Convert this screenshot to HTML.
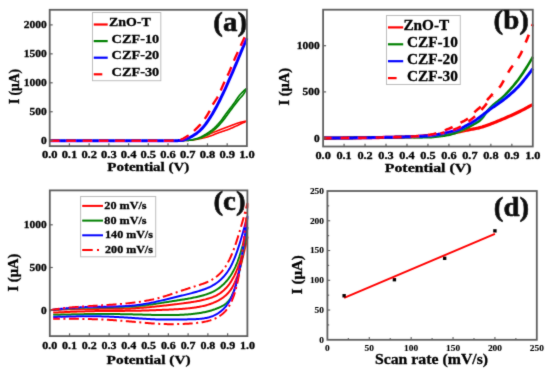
<!DOCTYPE html>
<html><head><meta charset="utf-8"><style>
html,body{margin:0;padding:0;background:#fff;}
svg{display:block;}
text{font-family:"Liberation Serif", serif;}
</style></head><body>
<svg width="550" height="375" viewBox="0 0 550 375">
<defs><filter id="bl" x="0" y="0" width="550" height="375" filterUnits="userSpaceOnUse"><feConvolveMatrix order="3" kernelMatrix="0.02 0.08 0.02 0.08 0.6 0.08 0.02 0.08 0.02" edgeMode="duplicate" preserveAlpha="false"/></filter></defs>
<rect width="550" height="375" fill="#fff"/>
<g filter="url(#bl)">
<path d="M49.70,140.70 L50.69,140.70 L51.68,140.70 L52.67,140.70 L53.66,140.70 L54.65,140.70 L55.65,140.70 L56.64,140.70 L57.63,140.70 L58.62,140.70 L59.61,140.70 L60.60,140.70 L61.59,140.70 L62.58,140.70 L63.57,140.70 L64.56,140.70 L65.56,140.70 L66.55,140.70 L67.54,140.70 L68.53,140.70 L69.52,140.70 L70.51,140.70 L71.50,140.70 L72.49,140.70 L73.48,140.70 L74.47,140.70 L75.46,140.70 L76.46,140.70 L77.45,140.70 L78.44,140.70 L79.43,140.70 L80.42,140.70 L81.41,140.70 L82.40,140.70 L83.39,140.70 L84.38,140.70 L85.37,140.70 L86.37,140.70 L87.36,140.70 L88.35,140.70 L89.34,140.70 L90.33,140.70 L91.32,140.70 L92.31,140.70 L93.30,140.70 L94.29,140.70 L95.28,140.70 L96.27,140.70 L97.27,140.70 L98.26,140.70 L99.25,140.70 L100.24,140.70 L101.23,140.70 L102.22,140.70 L103.21,140.70 L104.20,140.70 L105.19,140.70 L106.18,140.70 L107.18,140.70 L108.17,140.70 L109.16,140.70 L110.15,140.70 L111.14,140.70 L112.13,140.70 L113.12,140.70 L114.11,140.70 L115.10,140.70 L116.09,140.70 L117.08,140.70 L118.08,140.70 L119.07,140.70 L120.06,140.70 L121.05,140.70 L122.04,140.70 L123.03,140.70 L124.02,140.70 L125.01,140.70 L126.00,140.70 L126.99,140.70 L127.99,140.70 L128.98,140.70 L129.97,140.70 L130.96,140.70 L131.95,140.70 L132.94,140.70 L133.93,140.70 L134.92,140.70 L135.91,140.70 L136.90,140.70 L137.89,140.70 L138.89,140.70 L139.88,140.70 L140.87,140.70 L141.86,140.70 L142.85,140.70 L143.84,140.70 L144.83,140.70 L145.82,140.70 L146.81,140.70 L147.80,140.70 L148.80,140.70 L149.79,140.70 L150.78,140.70 L151.77,140.70 L152.76,140.70 L153.75,140.70 L154.74,140.70 L155.73,140.70 L156.72,140.70 L157.71,140.70 L158.71,140.70 L159.70,140.70 L160.69,140.70 L161.68,140.70 L162.67,140.70 L163.66,140.70 L164.65,140.70 L165.64,140.70 L166.63,140.70 L167.62,140.70 L168.61,140.70 L169.61,140.70 L170.60,140.70 L171.59,140.70 L172.58,140.70 L173.57,140.70 L174.56,140.70 L175.55,140.69 L176.54,140.69 L177.53,140.68 L178.52,140.68 L179.52,140.67 L180.51,140.66 L181.50,140.64 L182.49,140.62 L183.48,140.58 L184.47,140.53 L185.46,140.47 L186.45,140.41 L187.44,140.34 L188.43,140.27 L189.42,140.19 L190.42,140.11 L191.41,140.03 L192.40,139.94 L193.39,139.83 L194.38,139.70 L195.37,139.55 L196.36,139.38 L197.35,139.21 L198.34,139.02 L199.33,138.82 L200.33,138.61 L201.32,138.40 L202.31,138.19 L203.30,137.97 L204.29,137.73 L205.28,137.48 L206.27,137.21 L207.26,136.92 L208.25,136.62 L209.24,136.31 L210.23,135.99 L211.23,135.66 L212.22,135.31 L213.21,134.93 L214.20,134.52 L215.19,134.10 L216.18,133.69 L217.17,133.31 L218.16,132.95 L219.15,132.60 L220.14,132.26 L221.14,131.92 L222.13,131.59 L223.12,131.26 L224.11,130.92 L225.10,130.59 L226.09,130.24 L227.08,129.89 L228.07,129.52 L229.06,129.14 L230.05,128.74 L231.04,128.32 L232.04,127.90 L233.03,127.46 L234.02,127.02 L235.01,126.57 L236.00,126.11 L236.99,125.65 L237.98,125.19 L238.97,124.73 L239.96,124.26 L240.95,123.81 L241.95,123.35 L242.94,122.89 L243.93,122.42 L244.92,121.96 L245.91,121.49 L246.90,121.01" fill="none" stroke="#ff0000" stroke-width="1.6" stroke-linejoin="round" />
<path d="M205.49,135.60 L205.70,135.52 L205.90,135.43 L206.11,135.34 L206.32,135.26 L206.53,135.17 L206.74,135.09 L206.94,135.00 L207.15,134.91 L207.36,134.83 L207.57,134.74 L207.78,134.66 L207.99,134.57 L208.19,134.48 L208.40,134.40 L208.61,134.31 L208.82,134.23 L209.03,134.14 L209.23,134.06 L209.44,133.97 L209.65,133.89 L209.86,133.80 L210.07,133.72 L210.27,133.63 L210.48,133.55 L210.69,133.46 L210.90,133.38 L211.11,133.29 L211.31,133.21 L211.52,133.13 L211.73,133.04 L211.94,132.96 L212.15,132.87 L212.36,132.79 L212.56,132.71 L212.77,132.62 L212.98,132.54 L213.19,132.46 L213.40,132.37 L213.60,132.29 L213.81,132.21 L214.02,132.12 L214.23,132.04 L214.44,131.96 L214.64,131.87 L214.85,131.79 L215.06,131.71 L215.27,131.63 L215.48,131.54 L215.68,131.46 L215.89,131.38 L216.10,131.30 L216.31,131.22 L216.52,131.13 L216.73,131.05 L216.93,130.97 L217.14,130.89 L217.35,130.81 L217.56,130.73 L217.77,130.64 L217.97,130.56 L218.18,130.48 L218.39,130.40 L218.60,130.32 L218.81,130.24 L219.01,130.16 L219.22,130.08 L219.43,130.00 L219.64,129.91 L219.85,129.83 L220.06,129.75 L220.26,129.67 L220.47,129.59 L220.68,129.51 L220.89,129.43 L221.10,129.35 L221.30,129.27 L221.51,129.19 L221.72,129.11 L221.93,129.03 L222.14,128.95 L222.34,128.87 L222.55,128.79 L222.76,128.71 L222.97,128.63 L223.18,128.56 L223.38,128.48 L223.59,128.40 L223.80,128.32 L224.01,128.24 L224.22,128.16 L224.43,128.08 L224.63,128.00 L224.84,127.92 L225.05,127.85 L225.26,127.77 L225.47,127.69 L225.67,127.61 L225.88,127.53 L226.09,127.46 L226.30,127.38 L226.51,127.30 L226.71,127.22 L226.92,127.15 L227.13,127.07 L227.34,126.99 L227.55,126.92 L227.75,126.84 L227.96,126.76 L228.17,126.69 L228.38,126.61 L228.59,126.53 L228.80,126.46 L229.00,126.38 L229.21,126.30 L229.42,126.23 L229.63,126.15 L229.84,126.07 L230.04,125.99 L230.25,125.92 L230.46,125.84 L230.67,125.76 L230.88,125.68 L231.08,125.60 L231.29,125.52 L231.50,125.44 L231.71,125.36 L231.92,125.28 L232.12,125.19 L232.33,125.11 L232.54,125.03 L232.75,124.95 L232.96,124.87 L233.17,124.79 L233.37,124.71 L233.58,124.63 L233.79,124.55 L234.00,124.47 L234.21,124.39 L234.41,124.31 L234.62,124.23 L234.83,124.15 L235.04,124.08 L235.25,124.00 L235.45,123.92 L235.66,123.85 L235.87,123.77 L236.08,123.69 L236.29,123.62 L236.49,123.54 L236.70,123.47 L236.91,123.40 L237.12,123.33 L237.33,123.26 L237.54,123.18 L237.74,123.12 L237.95,123.05 L238.16,122.98 L238.37,122.91 L238.58,122.85 L238.78,122.78 L238.99,122.72 L239.20,122.66 L239.41,122.59 L239.62,122.53 L239.82,122.48 L240.03,122.42 L240.24,122.36 L240.45,122.31 L240.66,122.25 L240.87,122.20 L241.07,122.15 L241.28,122.10 L241.49,122.05 L241.70,122.00 L241.91,121.95 L242.11,121.91 L242.32,121.86 L242.53,121.81 L242.74,121.77 L242.95,121.72 L243.15,121.68 L243.36,121.64 L243.57,121.59 L243.78,121.55 L243.99,121.51 L244.19,121.47 L244.40,121.43 L244.61,121.39 L244.82,121.35 L245.03,121.32 L245.24,121.28 L245.44,121.24 L245.65,121.21 L245.86,121.17 L246.07,121.14 L246.28,121.11 L246.48,121.08 L246.69,121.04 L246.90,121.01" fill="none" stroke="#ff0000" stroke-width="1.6" stroke-linejoin="round" />
<path d="M49.70,140.70 L50.69,140.70 L51.68,140.70 L52.67,140.70 L53.66,140.70 L54.65,140.70 L55.65,140.70 L56.64,140.70 L57.63,140.70 L58.62,140.70 L59.61,140.70 L60.60,140.70 L61.59,140.70 L62.58,140.70 L63.57,140.70 L64.56,140.70 L65.56,140.70 L66.55,140.70 L67.54,140.70 L68.53,140.70 L69.52,140.70 L70.51,140.70 L71.50,140.70 L72.49,140.70 L73.48,140.70 L74.47,140.70 L75.46,140.70 L76.46,140.70 L77.45,140.70 L78.44,140.70 L79.43,140.70 L80.42,140.70 L81.41,140.70 L82.40,140.70 L83.39,140.70 L84.38,140.70 L85.37,140.70 L86.37,140.70 L87.36,140.70 L88.35,140.70 L89.34,140.70 L90.33,140.70 L91.32,140.70 L92.31,140.70 L93.30,140.70 L94.29,140.70 L95.28,140.70 L96.27,140.70 L97.27,140.70 L98.26,140.70 L99.25,140.70 L100.24,140.70 L101.23,140.70 L102.22,140.70 L103.21,140.70 L104.20,140.70 L105.19,140.70 L106.18,140.70 L107.18,140.70 L108.17,140.70 L109.16,140.70 L110.15,140.70 L111.14,140.70 L112.13,140.70 L113.12,140.70 L114.11,140.70 L115.10,140.70 L116.09,140.70 L117.08,140.70 L118.08,140.70 L119.07,140.70 L120.06,140.70 L121.05,140.70 L122.04,140.70 L123.03,140.70 L124.02,140.70 L125.01,140.70 L126.00,140.70 L126.99,140.70 L127.99,140.70 L128.98,140.70 L129.97,140.70 L130.96,140.70 L131.95,140.70 L132.94,140.70 L133.93,140.70 L134.92,140.70 L135.91,140.70 L136.90,140.70 L137.89,140.70 L138.89,140.70 L139.88,140.70 L140.87,140.70 L141.86,140.70 L142.85,140.70 L143.84,140.70 L144.83,140.70 L145.82,140.70 L146.81,140.70 L147.80,140.70 L148.80,140.70 L149.79,140.70 L150.78,140.70 L151.77,140.70 L152.76,140.70 L153.75,140.70 L154.74,140.70 L155.73,140.70 L156.72,140.70 L157.71,140.70 L158.71,140.70 L159.70,140.70 L160.69,140.70 L161.68,140.70 L162.67,140.70 L163.66,140.70 L164.65,140.70 L165.64,140.70 L166.63,140.70 L167.62,140.70 L168.61,140.70 L169.61,140.70 L170.60,140.70 L171.59,140.70 L172.58,140.70 L173.57,140.70 L174.56,140.70 L175.55,140.69 L176.54,140.69 L177.53,140.68 L178.52,140.68 L179.52,140.67 L180.51,140.66 L181.50,140.65 L182.49,140.62 L183.48,140.58 L184.47,140.54 L185.46,140.49 L186.45,140.43 L187.44,140.37 L188.43,140.30 L189.42,140.22 L190.42,140.11 L191.41,139.99 L192.40,139.85 L193.39,139.69 L194.38,139.52 L195.37,139.33 L196.36,139.13 L197.35,138.91 L198.34,138.68 L199.33,138.44 L200.33,138.18 L201.32,137.85 L202.31,137.48 L203.30,137.05 L204.29,136.59 L205.28,136.09 L206.27,135.57 L207.26,135.02 L208.25,134.44 L209.24,133.81 L210.23,133.11 L211.23,132.37 L212.22,131.58 L213.21,130.76 L214.20,129.89 L215.19,129.00 L216.18,128.08 L217.17,127.15 L218.16,126.15 L219.15,125.08 L220.14,123.96 L221.14,122.79 L222.13,121.59 L223.12,120.36 L224.11,119.13 L225.10,117.87 L226.09,116.56 L227.08,115.21 L228.07,113.84 L229.06,112.46 L230.05,111.09 L231.04,109.75 L232.04,108.42 L233.03,107.09 L234.02,105.77 L235.01,104.44 L236.00,103.14 L236.99,101.86 L237.98,100.61 L238.97,99.40 L239.96,98.29 L240.95,97.23 L241.95,96.14 L242.94,94.94 L243.93,93.54 L244.92,91.95 L245.91,90.19 L246.90,88.30" fill="none" stroke="#008000" stroke-width="1.7" stroke-linejoin="round" />
<path d="M187.74,140.35 L188.04,140.34 L188.33,140.33 L188.63,140.31 L188.93,140.28 L189.23,140.26 L189.52,140.23 L189.82,140.19 L190.12,140.15 L190.42,140.11 L190.71,140.07 L191.01,140.02 L191.31,139.97 L191.60,139.91 L191.90,139.85 L192.20,139.79 L192.50,139.73 L192.79,139.67 L193.09,139.60 L193.39,139.53 L193.69,139.46 L193.98,139.38 L194.28,139.31 L194.58,139.23 L194.87,139.15 L195.17,139.07 L195.47,138.99 L195.77,138.91 L196.06,138.83 L196.36,138.74 L196.66,138.66 L196.96,138.57 L197.25,138.48 L197.55,138.40 L197.85,138.31 L198.15,138.21 L198.44,138.11 L198.74,138.00 L199.04,137.88 L199.33,137.75 L199.63,137.62 L199.93,137.49 L200.23,137.34 L200.52,137.20 L200.82,137.05 L201.12,136.89 L201.42,136.73 L201.71,136.57 L202.01,136.41 L202.31,136.24 L202.60,136.07 L202.90,135.90 L203.20,135.73 L203.50,135.55 L203.79,135.38 L204.09,135.21 L204.39,135.03 L204.69,134.86 L204.98,134.68 L205.28,134.51 L205.58,134.34 L205.87,134.16 L206.17,133.99 L206.47,133.81 L206.77,133.62 L207.06,133.44 L207.36,133.25 L207.66,133.06 L207.96,132.87 L208.25,132.68 L208.55,132.48 L208.85,132.28 L209.14,132.08 L209.44,131.87 L209.74,131.66 L210.04,131.45 L210.33,131.24 L210.63,131.02 L210.93,130.80 L211.23,130.57 L211.52,130.34 L211.82,130.11 L212.12,129.88 L212.41,129.63 L212.71,129.39 L213.01,129.14 L213.31,128.88 L213.60,128.62 L213.90,128.35 L214.20,128.08 L214.50,127.81 L214.79,127.53 L215.09,127.24 L215.39,126.95 L215.68,126.66 L215.98,126.36 L216.28,126.06 L216.58,125.76 L216.87,125.45 L217.17,125.13 L217.47,124.82 L217.77,124.50 L218.06,124.17 L218.36,123.85 L218.66,123.52 L218.96,123.18 L219.25,122.85 L219.55,122.51 L219.85,122.16 L220.14,121.80 L220.44,121.44 L220.74,121.07 L221.04,120.68 L221.33,120.30 L221.63,119.90 L221.93,119.50 L222.23,119.10 L222.52,118.69 L222.82,118.27 L223.12,117.86 L223.41,117.44 L223.71,117.02 L224.01,116.60 L224.31,116.18 L224.60,115.76 L224.90,115.34 L225.20,114.93 L225.50,114.51 L225.79,114.10 L226.09,113.70 L226.39,113.29 L226.68,112.90 L226.98,112.50 L227.28,112.11 L227.58,111.72 L227.87,111.33 L228.17,110.94 L228.47,110.55 L228.77,110.16 L229.06,109.78 L229.36,109.39 L229.66,109.00 L229.95,108.62 L230.25,108.23 L230.55,107.84 L230.85,107.46 L231.14,107.07 L231.44,106.68 L231.74,106.29 L232.04,105.90 L232.33,105.50 L232.63,105.11 L232.93,104.71 L233.22,104.31 L233.52,103.91 L233.82,103.50 L234.12,103.09 L234.41,102.67 L234.71,102.24 L235.01,101.81 L235.31,101.37 L235.60,100.92 L235.90,100.47 L236.20,100.02 L236.49,99.57 L236.79,99.12 L237.09,98.68 L237.39,98.24 L237.68,97.80 L237.98,97.38 L238.28,96.96 L238.58,96.55 L238.87,96.16 L239.17,95.78 L239.47,95.41 L239.77,95.06 L240.06,94.72 L240.36,94.38 L240.66,94.05 L240.95,93.73 L241.25,93.40 L241.55,93.08 L241.85,92.77 L242.14,92.46 L242.44,92.16 L242.74,91.86 L243.04,91.56 L243.33,91.27 L243.63,90.99 L243.93,90.71 L244.22,90.44 L244.52,90.18 L244.82,89.92 L245.12,89.66 L245.41,89.42 L245.71,89.18 L246.01,88.95 L246.31,88.73 L246.60,88.51 L246.90,88.30" fill="none" stroke="#008000" stroke-width="1.7" stroke-linejoin="round" />
<path d="M49.70,140.70 L50.69,140.70 L51.68,140.70 L52.67,140.70 L53.66,140.70 L54.65,140.70 L55.65,140.70 L56.64,140.70 L57.63,140.70 L58.62,140.70 L59.61,140.70 L60.60,140.70 L61.59,140.70 L62.58,140.70 L63.57,140.70 L64.56,140.70 L65.56,140.70 L66.55,140.70 L67.54,140.70 L68.53,140.70 L69.52,140.70 L70.51,140.70 L71.50,140.70 L72.49,140.70 L73.48,140.70 L74.47,140.70 L75.46,140.70 L76.46,140.70 L77.45,140.70 L78.44,140.70 L79.43,140.70 L80.42,140.70 L81.41,140.70 L82.40,140.70 L83.39,140.70 L84.38,140.70 L85.37,140.70 L86.37,140.70 L87.36,140.70 L88.35,140.70 L89.34,140.70 L90.33,140.70 L91.32,140.70 L92.31,140.70 L93.30,140.70 L94.29,140.70 L95.28,140.70 L96.27,140.70 L97.27,140.70 L98.26,140.70 L99.25,140.70 L100.24,140.70 L101.23,140.70 L102.22,140.70 L103.21,140.70 L104.20,140.70 L105.19,140.70 L106.18,140.70 L107.18,140.70 L108.17,140.70 L109.16,140.70 L110.15,140.70 L111.14,140.70 L112.13,140.70 L113.12,140.70 L114.11,140.70 L115.10,140.70 L116.09,140.70 L117.08,140.70 L118.08,140.70 L119.07,140.70 L120.06,140.70 L121.05,140.70 L122.04,140.70 L123.03,140.70 L124.02,140.70 L125.01,140.70 L126.00,140.70 L126.99,140.70 L127.99,140.70 L128.98,140.70 L129.97,140.70 L130.96,140.70 L131.95,140.70 L132.94,140.70 L133.93,140.70 L134.92,140.70 L135.91,140.70 L136.90,140.70 L137.89,140.70 L138.89,140.70 L139.88,140.70 L140.87,140.70 L141.86,140.70 L142.85,140.70 L143.84,140.70 L144.83,140.70 L145.82,140.70 L146.81,140.70 L147.80,140.70 L148.80,140.70 L149.79,140.70 L150.78,140.70 L151.77,140.70 L152.76,140.70 L153.75,140.70 L154.74,140.70 L155.73,140.70 L156.72,140.70 L157.71,140.70 L158.71,140.70 L159.70,140.70 L160.69,140.70 L161.68,140.70 L162.67,140.70 L163.66,140.70 L164.65,140.70 L165.64,140.70 L166.63,140.70 L167.62,140.70 L168.61,140.70 L169.61,140.70 L170.60,140.70 L171.59,140.70 L172.58,140.70 L173.57,140.70 L174.56,140.69 L175.55,140.68 L176.54,140.66 L177.53,140.64 L178.52,140.62 L179.52,140.60 L180.51,140.56 L181.50,140.44 L182.49,140.24 L183.48,139.97 L184.47,139.64 L185.46,139.28 L186.45,138.90 L187.44,138.52 L188.43,138.13 L189.42,137.69 L190.42,137.20 L191.41,136.67 L192.40,136.09 L193.39,135.47 L194.38,134.82 L195.37,134.15 L196.36,133.45 L197.35,132.70 L198.34,131.89 L199.33,131.03 L200.33,130.11 L201.32,129.14 L202.31,128.12 L203.30,127.04 L204.29,125.86 L205.28,124.59 L206.27,123.25 L207.26,121.86 L208.25,120.43 L209.24,118.95 L210.23,117.41 L211.23,115.81 L212.22,114.17 L213.21,112.48 L214.20,110.75 L215.19,108.98 L216.18,107.19 L217.17,105.33 L218.16,103.42 L219.15,101.46 L220.14,99.46 L221.14,97.42 L222.13,95.36 L223.12,93.28 L224.11,91.18 L225.10,89.05 L226.09,86.87 L227.08,84.67 L228.07,82.44 L229.06,80.19 L230.05,77.92 L231.04,75.65 L232.04,73.38 L233.03,71.09 L234.02,68.77 L235.01,66.44 L236.00,64.09 L236.99,61.71 L237.98,59.32 L238.97,56.93 L239.96,54.55 L240.95,52.18 L241.95,49.84 L242.94,47.50 L243.93,45.16 L244.92,42.84 L245.91,40.52 L246.90,38.22" fill="none" stroke="#0000ff" stroke-width="3.0" stroke-linejoin="round" />
<path d="M49.70,140.70 L50.69,140.70 L51.68,140.70 L52.67,140.70 L53.66,140.70 L54.65,140.70 L55.65,140.70 L56.64,140.70 L57.63,140.70 L58.62,140.70 L59.61,140.70 L60.60,140.70 L61.59,140.70 L62.58,140.70 L63.57,140.70 L64.56,140.70 L65.56,140.70 L66.55,140.70 L67.54,140.70 L68.53,140.70 L69.52,140.70 L70.51,140.70 L71.50,140.70 L72.49,140.70 L73.48,140.70 L74.47,140.70 L75.46,140.70 L76.46,140.70 L77.45,140.70 L78.44,140.70 L79.43,140.70 L80.42,140.70 L81.41,140.70 L82.40,140.70 L83.39,140.70 L84.38,140.70 L85.37,140.70 L86.37,140.70 L87.36,140.70 L88.35,140.70 L89.34,140.70 L90.33,140.70 L91.32,140.70 L92.31,140.70 L93.30,140.70 L94.29,140.70 L95.28,140.70 L96.27,140.70 L97.27,140.70 L98.26,140.70 L99.25,140.70 L100.24,140.70 L101.23,140.70 L102.22,140.70 L103.21,140.70 L104.20,140.70 L105.19,140.70 L106.18,140.70 L107.18,140.70 L108.17,140.70 L109.16,140.70 L110.15,140.70 L111.14,140.70 L112.13,140.70 L113.12,140.70 L114.11,140.70 L115.10,140.70 L116.09,140.70 L117.08,140.70 L118.08,140.70 L119.07,140.70 L120.06,140.70 L121.05,140.70 L122.04,140.70 L123.03,140.70 L124.02,140.70 L125.01,140.70 L126.00,140.70 L126.99,140.70 L127.99,140.70 L128.98,140.70 L129.97,140.70 L130.96,140.70 L131.95,140.70 L132.94,140.70 L133.93,140.70 L134.92,140.70 L135.91,140.70 L136.90,140.70 L137.89,140.70 L138.89,140.70 L139.88,140.70 L140.87,140.70 L141.86,140.70 L142.85,140.70 L143.84,140.70 L144.83,140.70 L145.82,140.70 L146.81,140.70 L147.80,140.70 L148.80,140.70 L149.79,140.70 L150.78,140.70 L151.77,140.70 L152.76,140.70 L153.75,140.70 L154.74,140.70 L155.73,140.70 L156.72,140.70 L157.71,140.70 L158.71,140.70 L159.70,140.70 L160.69,140.70 L161.68,140.70 L162.67,140.70 L163.66,140.70 L164.65,140.70 L165.64,140.70 L166.63,140.70 L167.62,140.70 L168.61,140.70 L169.61,140.68 L170.60,140.65 L171.59,140.60 L172.58,140.54 L173.57,140.47 L174.56,140.38 L175.55,140.29 L176.54,140.18 L177.53,140.06 L178.52,139.93 L179.52,139.79 L180.51,139.63 L181.50,139.35 L182.49,138.96 L183.48,138.47 L184.47,137.92 L185.46,137.31 L186.45,136.67 L187.44,136.03 L188.43,135.40 L189.42,134.71 L190.42,133.96 L191.41,133.17 L192.40,132.32 L193.39,131.45 L194.38,130.54 L195.37,129.62 L196.36,128.68 L197.35,127.72 L198.34,126.71 L199.33,125.67 L200.33,124.58 L201.32,123.44 L202.31,122.24 L203.30,120.97 L204.29,119.62 L205.28,118.18 L206.27,116.67 L207.26,115.09 L208.25,113.45 L209.24,111.72 L210.23,109.80 L211.23,107.78 L212.22,105.79 L213.21,103.94 L214.20,102.32 L215.19,100.87 L216.18,99.42 L217.17,97.83 L218.16,95.97 L219.15,93.92 L220.14,91.75 L221.14,89.54 L222.13,87.33 L223.12,85.04 L224.11,82.77 L225.10,80.61 L226.09,78.55 L227.08,76.55 L228.07,74.53 L229.06,72.43 L230.05,70.19 L231.04,67.83 L232.04,65.40 L233.03,62.96 L234.02,60.59 L235.01,58.32 L236.00,56.09 L236.99,53.88 L237.98,51.71 L238.97,49.54 L239.96,47.39 L240.95,45.23 L241.95,43.07 L242.94,40.93 L243.93,38.79 L244.92,36.66 L245.91,34.54 L246.90,32.43" fill="none" stroke="#ff0000" stroke-width="2.4" stroke-dasharray="9.5,6.8" stroke-linejoin="round" stroke-dashoffset="16.0"/>
<rect x="49.7" y="9.8" width="197.20" height="136.30" fill="none" stroke="#5e5e5e" stroke-width="1.8"/>
<line x1="69.42" y1="146.1" x2="69.42" y2="143.29999999999998" stroke="#5e5e5e" stroke-width="1.2"/>
<line x1="89.14" y1="146.1" x2="89.14" y2="143.29999999999998" stroke="#5e5e5e" stroke-width="1.2"/>
<line x1="108.86" y1="146.1" x2="108.86" y2="143.29999999999998" stroke="#5e5e5e" stroke-width="1.2"/>
<line x1="128.58" y1="146.1" x2="128.58" y2="143.29999999999998" stroke="#5e5e5e" stroke-width="1.2"/>
<line x1="148.30" y1="146.1" x2="148.30" y2="143.29999999999998" stroke="#5e5e5e" stroke-width="1.2"/>
<line x1="168.02" y1="146.1" x2="168.02" y2="143.29999999999998" stroke="#5e5e5e" stroke-width="1.2"/>
<line x1="187.74" y1="146.1" x2="187.74" y2="143.29999999999998" stroke="#5e5e5e" stroke-width="1.2"/>
<line x1="207.46" y1="146.1" x2="207.46" y2="143.29999999999998" stroke="#5e5e5e" stroke-width="1.2"/>
<line x1="227.18" y1="146.1" x2="227.18" y2="143.29999999999998" stroke="#5e5e5e" stroke-width="1.2"/>
<line x1="49.7" y1="140.70" x2="52.7" y2="140.70" stroke="#5e5e5e" stroke-width="1.2"/>
<text transform="translate(46.70,144.10) scale(1.130,1.000)" font-size="10.2" font-weight="bold" text-anchor="end" fill="#000" stroke="#000" stroke-width="0.3">0</text>
<line x1="49.7" y1="111.75" x2="52.7" y2="111.75" stroke="#5e5e5e" stroke-width="1.2"/>
<text transform="translate(46.70,115.15) scale(1.130,1.000)" font-size="10.2" font-weight="bold" text-anchor="end" fill="#000" stroke="#000" stroke-width="0.3">500</text>
<line x1="49.7" y1="82.80" x2="52.7" y2="82.80" stroke="#5e5e5e" stroke-width="1.2"/>
<text transform="translate(46.70,86.20) scale(1.130,1.000)" font-size="10.2" font-weight="bold" text-anchor="end" fill="#000" stroke="#000" stroke-width="0.3">1000</text>
<line x1="49.7" y1="53.85" x2="52.7" y2="53.85" stroke="#5e5e5e" stroke-width="1.2"/>
<text transform="translate(46.70,57.25) scale(1.130,1.000)" font-size="10.2" font-weight="bold" text-anchor="end" fill="#000" stroke="#000" stroke-width="0.3">1500</text>
<line x1="49.7" y1="24.90" x2="52.7" y2="24.90" stroke="#5e5e5e" stroke-width="1.2"/>
<text transform="translate(46.70,28.30) scale(1.130,1.000)" font-size="10.2" font-weight="bold" text-anchor="end" fill="#000" stroke="#000" stroke-width="0.3">2000</text>
<text transform="translate(49.70,157.50) scale(1.270,1.000)" font-size="9.8" font-weight="bold" text-anchor="middle" fill="#000" stroke="#000" stroke-width="0.3">0.0</text>
<text transform="translate(69.42,157.50) scale(1.270,1.000)" font-size="9.8" font-weight="bold" text-anchor="middle" fill="#000" stroke="#000" stroke-width="0.3">0.1</text>
<text transform="translate(89.14,157.50) scale(1.270,1.000)" font-size="9.8" font-weight="bold" text-anchor="middle" fill="#000" stroke="#000" stroke-width="0.3">0.2</text>
<text transform="translate(108.86,157.50) scale(1.270,1.000)" font-size="9.8" font-weight="bold" text-anchor="middle" fill="#000" stroke="#000" stroke-width="0.3">0.3</text>
<text transform="translate(128.58,157.50) scale(1.270,1.000)" font-size="9.8" font-weight="bold" text-anchor="middle" fill="#000" stroke="#000" stroke-width="0.3">0.4</text>
<text transform="translate(148.30,157.50) scale(1.270,1.000)" font-size="9.8" font-weight="bold" text-anchor="middle" fill="#000" stroke="#000" stroke-width="0.3">0.5</text>
<text transform="translate(168.02,157.50) scale(1.270,1.000)" font-size="9.8" font-weight="bold" text-anchor="middle" fill="#000" stroke="#000" stroke-width="0.3">0.6</text>
<text transform="translate(187.74,157.50) scale(1.270,1.000)" font-size="9.8" font-weight="bold" text-anchor="middle" fill="#000" stroke="#000" stroke-width="0.3">0.7</text>
<text transform="translate(207.46,157.50) scale(1.270,1.000)" font-size="9.8" font-weight="bold" text-anchor="middle" fill="#000" stroke="#000" stroke-width="0.3">0.8</text>
<text transform="translate(227.18,157.50) scale(1.270,1.000)" font-size="9.8" font-weight="bold" text-anchor="middle" fill="#000" stroke="#000" stroke-width="0.3">0.9</text>
<text transform="translate(246.90,157.50) scale(1.270,1.000)" font-size="9.8" font-weight="bold" text-anchor="middle" fill="#000" stroke="#000" stroke-width="0.3">1.0</text>
<text transform="translate(148.30,171.20) scale(1.250,1.000)" font-size="12" font-weight="bold" text-anchor="middle" fill="#000" stroke="#000" stroke-width="0.3">Potential (V)</text>
<text transform="translate(19.30,86.50) rotate(-90) scale(1.000,1.120)" font-size="13.6" font-weight="bold" text-anchor="middle" fill="#000" stroke="#000" stroke-width="0.3">I (μA)</text>
<text transform="translate(230.20,30.80) scale(1.060,1.000)" font-size="27.3" font-weight="bold" text-anchor="middle" fill="#0a0a0a" stroke="#0a0a0a" stroke-width="0.5">(a)</text>
<rect x="92.5" y="12.5" width="68.3" height="68.2" fill="none" stroke="#bdbdbd" stroke-width="1"/>
<line x1="93.6" y1="24.50" x2="107.7" y2="24.50" stroke="#ff0000" stroke-width="2.2"/>
<text transform="translate(108.90,26.10)" font-size="13.3" font-weight="bold" text-anchor="start" fill="#000" textLength="41.8" lengthAdjust="spacingAndGlyphs" stroke="#000" stroke-width="0.3">ZnO-T</text>
<line x1="93.6" y1="41.10" x2="107.7" y2="41.10" stroke="#008000" stroke-width="2.2"/>
<text transform="translate(111.60,42.70)" font-size="13.3" font-weight="bold" text-anchor="start" fill="#000" textLength="47.6" lengthAdjust="spacingAndGlyphs" stroke="#000" stroke-width="0.3">CZF-10</text>
<line x1="93.6" y1="57.70" x2="107.7" y2="57.70" stroke="#0000ff" stroke-width="2.2"/>
<text transform="translate(111.60,59.30)" font-size="13.3" font-weight="bold" text-anchor="start" fill="#000" textLength="47.6" lengthAdjust="spacingAndGlyphs" stroke="#000" stroke-width="0.3">CZF-20</text>
<line x1="93.6" y1="74.30" x2="102.3" y2="74.30" stroke="#ff0000" stroke-width="2.2"/>
<text transform="translate(111.60,75.90)" font-size="13.3" font-weight="bold" text-anchor="start" fill="#000" textLength="47.6" lengthAdjust="spacingAndGlyphs" stroke="#000" stroke-width="0.3">CZF-30</text>
<path d="M323.10,138.10 L324.15,138.10 L325.21,138.09 L326.26,138.09 L327.32,138.08 L328.37,138.08 L329.42,138.07 L330.48,138.06 L331.53,138.06 L332.58,138.05 L333.64,138.04 L334.69,138.04 L335.75,138.03 L336.80,138.02 L337.85,138.01 L338.91,138.00 L339.96,137.99 L341.01,137.98 L342.07,137.98 L343.12,137.97 L344.18,137.96 L345.23,137.95 L346.28,137.94 L347.34,137.93 L348.39,137.91 L349.44,137.90 L350.50,137.89 L351.55,137.88 L352.61,137.87 L353.66,137.86 L354.71,137.85 L355.77,137.84 L356.82,137.82 L357.87,137.81 L358.93,137.80 L359.98,137.79 L361.04,137.78 L362.09,137.76 L363.14,137.75 L364.20,137.74 L365.25,137.72 L366.30,137.71 L367.36,137.70 L368.41,137.68 L369.47,137.67 L370.52,137.66 L371.57,137.64 L372.63,137.63 L373.68,137.61 L374.73,137.60 L375.79,137.58 L376.84,137.56 L377.90,137.55 L378.95,137.53 L380.00,137.51 L381.06,137.49 L382.11,137.48 L383.16,137.46 L384.22,137.44 L385.27,137.42 L386.33,137.40 L387.38,137.38 L388.43,137.36 L389.49,137.34 L390.54,137.31 L391.59,137.29 L392.65,137.27 L393.70,137.24 L394.76,137.22 L395.81,137.20 L396.86,137.17 L397.92,137.14 L398.97,137.12 L400.03,137.09 L401.08,137.06 L402.13,137.04 L403.19,137.01 L404.24,136.98 L405.29,136.94 L406.35,136.91 L407.40,136.87 L408.46,136.84 L409.51,136.80 L410.56,136.75 L411.62,136.71 L412.67,136.66 L413.72,136.62 L414.78,136.57 L415.83,136.51 L416.89,136.45 L417.94,136.39 L418.99,136.32 L420.05,136.24 L421.10,136.14 L422.15,136.04 L423.21,135.94 L424.26,135.82 L425.32,135.71 L426.37,135.59 L427.42,135.48 L428.48,135.37 L429.53,135.26 L430.58,135.16 L431.64,135.06 L432.69,134.97 L433.75,134.87 L434.80,134.78 L435.85,134.69 L436.91,134.60 L437.96,134.51 L439.01,134.41 L440.07,134.32 L441.12,134.23 L442.18,134.13 L443.23,134.03 L444.28,133.92 L445.34,133.82 L446.39,133.70 L447.44,133.59 L448.50,133.47 L449.55,133.34 L450.61,133.20 L451.66,133.05 L452.71,132.90 L453.77,132.74 L454.82,132.57 L455.87,132.40 L456.93,132.22 L457.98,132.03 L459.04,131.84 L460.09,131.63 L461.14,131.42 L462.20,131.19 L463.25,130.96 L464.31,130.73 L465.36,130.51 L466.41,130.28 L467.47,130.07 L468.52,129.86 L469.57,129.66 L470.63,129.47 L471.68,129.28 L472.74,129.10 L473.79,128.91 L474.84,128.71 L475.90,128.51 L476.95,128.29 L478.00,128.07 L479.06,127.82 L480.11,127.55 L481.17,127.26 L482.22,126.95 L483.27,126.61 L484.33,126.26 L485.38,125.90 L486.43,125.53 L487.49,125.15 L488.54,124.77 L489.60,124.38 L490.65,124.00 L491.70,123.61 L492.76,123.20 L493.81,122.79 L494.86,122.38 L495.92,121.95 L496.97,121.52 L498.03,121.08 L499.08,120.64 L500.13,120.20 L501.19,119.75 L502.24,119.31 L503.29,118.86 L504.35,118.41 L505.40,117.95 L506.46,117.50 L507.51,117.05 L508.56,116.59 L509.62,116.12 L510.67,115.66 L511.72,115.19 L512.78,114.71 L513.83,114.23 L514.89,113.75 L515.94,113.26 L516.99,112.76 L518.05,112.26 L519.10,111.75 L520.15,111.23 L521.21,110.69 L522.26,110.15 L523.32,109.60 L524.37,109.04 L525.42,108.47 L526.48,107.90 L527.53,107.34 L528.58,106.77 L529.64,106.20 L530.69,105.65 L531.75,105.09 L532.80,104.55" fill="none" stroke="#ff0000" stroke-width="3.2" stroke-linejoin="round" />
<path d="M323.10,138.10 L324.15,138.09 L325.21,138.09 L326.26,138.08 L327.32,138.08 L328.37,138.07 L329.42,138.06 L330.48,138.06 L331.53,138.05 L332.58,138.04 L333.64,138.03 L334.69,138.03 L335.75,138.02 L336.80,138.01 L337.85,138.00 L338.91,137.99 L339.96,137.98 L341.01,137.97 L342.07,137.96 L343.12,137.95 L344.18,137.95 L345.23,137.94 L346.28,137.93 L347.34,137.92 L348.39,137.91 L349.44,137.89 L350.50,137.88 L351.55,137.87 L352.61,137.86 L353.66,137.85 L354.71,137.84 L355.77,137.83 L356.82,137.82 L357.87,137.81 L358.93,137.80 L359.98,137.78 L361.04,137.77 L362.09,137.76 L363.14,137.75 L364.20,137.74 L365.25,137.72 L366.30,137.71 L367.36,137.70 L368.41,137.68 L369.47,137.66 L370.52,137.65 L371.57,137.63 L372.63,137.61 L373.68,137.59 L374.73,137.57 L375.79,137.55 L376.84,137.52 L377.90,137.50 L378.95,137.48 L380.00,137.46 L381.06,137.43 L382.11,137.41 L383.16,137.39 L384.22,137.37 L385.27,137.35 L386.33,137.33 L387.38,137.31 L388.43,137.29 L389.49,137.27 L390.54,137.25 L391.59,137.24 L392.65,137.22 L393.70,137.21 L394.76,137.20 L395.81,137.19 L396.86,137.18 L397.92,137.18 L398.97,137.17 L400.03,137.17 L401.08,137.17 L402.13,137.17 L403.19,137.18 L404.24,137.19 L405.29,137.20 L406.35,137.22 L407.40,137.23 L408.46,137.25 L409.51,137.27 L410.56,137.29 L411.62,137.30 L412.67,137.32 L413.72,137.33 L414.78,137.34 L415.83,137.35 L416.89,137.35 L417.94,137.35 L418.99,137.35 L420.05,137.35 L421.10,137.34 L422.15,137.33 L423.21,137.31 L424.26,137.30 L425.32,137.28 L426.37,137.26 L427.42,137.23 L428.48,137.21 L429.53,137.18 L430.58,137.15 L431.64,137.09 L432.69,137.01 L433.75,136.91 L434.80,136.79 L435.85,136.67 L436.91,136.53 L437.96,136.40 L439.01,136.27 L440.07,136.14 L441.12,136.01 L442.18,135.88 L443.23,135.74 L444.28,135.59 L445.34,135.43 L446.39,135.26 L447.44,135.08 L448.50,134.88 L449.55,134.66 L450.61,134.41 L451.66,134.12 L452.71,133.81 L453.77,133.48 L454.82,133.14 L455.87,132.78 L456.93,132.40 L457.98,132.03 L459.04,131.63 L460.09,131.22 L461.14,130.78 L462.20,130.32 L463.25,129.84 L464.31,129.35 L465.36,128.85 L466.41,128.33 L467.47,127.80 L468.52,127.25 L469.57,126.66 L470.63,126.05 L471.68,125.42 L472.74,124.79 L473.79,124.17 L474.84,123.57 L475.90,123.00 L476.95,122.42 L478.00,121.78 L479.06,121.06 L480.11,120.19 L481.17,119.14 L482.22,117.93 L483.27,116.61 L484.33,115.22 L485.38,113.79 L486.43,112.36 L487.49,110.98 L488.54,109.68 L489.60,108.50 L490.65,107.44 L491.70,106.45 L492.76,105.50 L493.81,104.59 L494.86,103.70 L495.92,102.84 L496.97,101.99 L498.03,101.15 L499.08,100.30 L500.13,99.43 L501.19,98.54 L502.24,97.61 L503.29,96.65 L504.35,95.63 L505.40,94.57 L506.46,93.49 L507.51,92.38 L508.56,91.25 L509.62,90.09 L510.67,88.91 L511.72,87.71 L512.78,86.47 L513.83,85.22 L514.89,83.94 L515.94,82.63 L516.99,81.30 L518.05,79.95 L519.10,78.55 L520.15,77.09 L521.21,75.58 L522.26,74.02 L523.32,72.43 L524.37,70.82 L525.42,69.19 L526.48,67.54 L527.53,65.86 L528.58,64.15 L529.64,62.41 L530.69,60.64 L531.75,58.84 L532.80,57.02" fill="none" stroke="#008000" stroke-width="2.6" stroke-linejoin="round" />
<path d="M323.10,138.10 L324.15,138.10 L325.21,138.09 L326.26,138.09 L327.32,138.09 L328.37,138.08 L329.42,138.08 L330.48,138.07 L331.53,138.07 L332.58,138.06 L333.64,138.05 L334.69,138.05 L335.75,138.04 L336.80,138.03 L337.85,138.02 L338.91,138.01 L339.96,138.00 L341.01,138.00 L342.07,137.99 L343.12,137.98 L344.18,137.97 L345.23,137.96 L346.28,137.95 L347.34,137.93 L348.39,137.92 L349.44,137.91 L350.50,137.90 L351.55,137.89 L352.61,137.88 L353.66,137.87 L354.71,137.85 L355.77,137.84 L356.82,137.83 L357.87,137.82 L358.93,137.80 L359.98,137.79 L361.04,137.78 L362.09,137.76 L363.14,137.75 L364.20,137.74 L365.25,137.72 L366.30,137.71 L367.36,137.70 L368.41,137.68 L369.47,137.67 L370.52,137.65 L371.57,137.63 L372.63,137.61 L373.68,137.60 L374.73,137.58 L375.79,137.56 L376.84,137.54 L377.90,137.52 L378.95,137.50 L380.00,137.48 L381.06,137.45 L382.11,137.43 L383.16,137.41 L384.22,137.39 L385.27,137.36 L386.33,137.34 L387.38,137.31 L388.43,137.29 L389.49,137.26 L390.54,137.24 L391.59,137.21 L392.65,137.19 L393.70,137.16 L394.76,137.14 L395.81,137.11 L396.86,137.08 L397.92,137.05 L398.97,137.03 L400.03,137.00 L401.08,136.97 L402.13,136.94 L403.19,136.91 L404.24,136.88 L405.29,136.85 L406.35,136.82 L407.40,136.79 L408.46,136.76 L409.51,136.72 L410.56,136.69 L411.62,136.65 L412.67,136.61 L413.72,136.57 L414.78,136.53 L415.83,136.49 L416.89,136.45 L417.94,136.40 L418.99,136.36 L420.05,136.31 L421.10,136.26 L422.15,136.20 L423.21,136.15 L424.26,136.09 L425.32,136.03 L426.37,135.96 L427.42,135.89 L428.48,135.81 L429.53,135.72 L430.58,135.63 L431.64,135.51 L432.69,135.38 L433.75,135.23 L434.80,135.07 L435.85,134.89 L436.91,134.71 L437.96,134.52 L439.01,134.33 L440.07,134.13 L441.12,133.91 L442.18,133.67 L443.23,133.42 L444.28,133.16 L445.34,132.89 L446.39,132.62 L447.44,132.36 L448.50,132.09 L449.55,131.84 L450.61,131.60 L451.66,131.36 L452.71,131.12 L453.77,130.87 L454.82,130.62 L455.87,130.34 L456.93,130.03 L457.98,129.70 L459.04,129.31 L460.09,128.87 L461.14,128.38 L462.20,127.86 L463.25,127.31 L464.31,126.74 L465.36,126.16 L466.41,125.58 L467.47,125.00 L468.52,124.42 L469.57,123.83 L470.63,123.22 L471.68,122.60 L472.74,121.96 L473.79,121.31 L474.84,120.64 L475.90,119.96 L476.95,119.25 L478.00,118.53 L479.06,117.79 L480.11,117.03 L481.17,116.24 L482.22,115.43 L483.27,114.60 L484.33,113.77 L485.38,112.93 L486.43,112.09 L487.49,111.26 L488.54,110.45 L489.60,109.65 L490.65,108.87 L491.70,108.12 L492.76,107.38 L493.81,106.65 L494.86,105.93 L495.92,105.22 L496.97,104.51 L498.03,103.79 L499.08,103.06 L500.13,102.33 L501.19,101.57 L502.24,100.80 L503.29,100.00 L504.35,99.18 L505.40,98.34 L506.46,97.48 L507.51,96.61 L508.56,95.73 L509.62,94.83 L510.67,93.91 L511.72,92.98 L512.78,92.02 L513.83,91.05 L514.89,90.06 L515.94,89.04 L516.99,88.00 L518.05,86.94 L519.10,85.85 L520.15,84.71 L521.21,83.51 L522.26,82.26 L523.32,80.97 L524.37,79.67 L525.42,78.37 L526.48,77.05 L527.53,75.70 L528.58,74.34 L529.64,72.95 L530.69,71.55 L531.75,70.12 L532.80,68.67" fill="none" stroke="#0000ff" stroke-width="3.0" stroke-linejoin="round" />
<path d="M323.10,138.10 L324.15,138.10 L325.21,138.09 L326.26,138.09 L327.32,138.09 L328.37,138.08 L329.42,138.08 L330.48,138.07 L331.53,138.07 L332.58,138.06 L333.64,138.05 L334.69,138.05 L335.75,138.04 L336.80,138.03 L337.85,138.02 L338.91,138.01 L339.96,138.00 L341.01,138.00 L342.07,137.99 L343.12,137.98 L344.18,137.97 L345.23,137.96 L346.28,137.95 L347.34,137.93 L348.39,137.92 L349.44,137.91 L350.50,137.90 L351.55,137.89 L352.61,137.88 L353.66,137.87 L354.71,137.85 L355.77,137.84 L356.82,137.83 L357.87,137.82 L358.93,137.80 L359.98,137.79 L361.04,137.78 L362.09,137.76 L363.14,137.75 L364.20,137.74 L365.25,137.72 L366.30,137.71 L367.36,137.70 L368.41,137.68 L369.47,137.67 L370.52,137.65 L371.57,137.64 L372.63,137.62 L373.68,137.60 L374.73,137.58 L375.79,137.57 L376.84,137.55 L377.90,137.53 L378.95,137.51 L380.00,137.49 L381.06,137.47 L382.11,137.45 L383.16,137.42 L384.22,137.40 L385.27,137.38 L386.33,137.36 L387.38,137.33 L388.43,137.31 L389.49,137.28 L390.54,137.26 L391.59,137.23 L392.65,137.20 L393.70,137.18 L394.76,137.15 L395.81,137.12 L396.86,137.09 L397.92,137.06 L398.97,137.03 L400.03,137.00 L401.08,136.97 L402.13,136.94 L403.19,136.90 L404.24,136.87 L405.29,136.83 L406.35,136.79 L407.40,136.75 L408.46,136.71 L409.51,136.66 L410.56,136.62 L411.62,136.57 L412.67,136.51 L413.72,136.46 L414.78,136.40 L415.83,136.34 L416.89,136.27 L417.94,136.20 L418.99,136.13 L420.05,136.05 L421.10,135.95 L422.15,135.85 L423.21,135.75 L424.26,135.63 L425.32,135.50 L426.37,135.37 L427.42,135.23 L428.48,135.08 L429.53,134.92 L430.58,134.75 L431.64,134.54 L432.69,134.31 L433.75,134.05 L434.80,133.76 L435.85,133.46 L436.91,133.15 L437.96,132.82 L439.01,132.50 L440.07,132.16 L441.12,131.79 L442.18,131.39 L443.23,130.99 L444.28,130.57 L445.34,130.15 L446.39,129.73 L447.44,129.30 L448.50,128.87 L449.55,128.43 L450.61,127.97 L451.66,127.51 L452.71,127.03 L453.77,126.54 L454.82,126.04 L455.87,125.51 L456.93,124.96 L457.98,124.35 L459.04,123.72 L460.09,123.09 L461.14,122.47 L462.20,121.90 L463.25,121.34 L464.31,120.78 L465.36,120.19 L466.41,119.55 L467.47,118.83 L468.52,118.00 L469.57,117.05 L470.63,116.03 L471.68,114.98 L472.74,113.95 L473.79,112.93 L474.84,111.90 L475.90,110.92 L476.95,109.98 L478.00,109.05 L479.06,108.14 L480.11,107.20 L481.17,106.25 L482.22,105.24 L483.27,104.19 L484.33,103.09 L485.38,101.97 L486.43,100.82 L487.49,99.66 L488.54,98.49 L489.60,97.33 L490.65,96.16 L491.70,94.96 L492.76,93.77 L493.81,92.63 L494.86,91.59 L495.92,90.66 L496.97,89.75 L498.03,88.81 L499.08,87.75 L500.13,86.52 L501.19,84.97 L502.24,83.19 L503.29,81.27 L504.35,79.34 L505.40,77.50 L506.46,75.65 L507.51,73.78 L508.56,71.92 L509.62,70.15 L510.67,68.52 L511.72,67.06 L512.78,65.72 L513.83,64.41 L514.89,63.06 L515.94,61.59 L516.99,60.01 L518.05,58.37 L519.10,56.63 L520.15,54.79 L521.21,52.81 L522.26,50.62 L523.32,48.23 L524.37,45.71 L525.42,43.13 L526.48,40.55 L527.53,37.95 L528.58,35.31 L529.64,32.61 L530.69,29.86 L531.75,27.06 L532.80,24.21" fill="none" stroke="#ff0000" stroke-width="2.6" stroke-dasharray="8.5,9" stroke-linejoin="round" />
<path d="M440.53,133.44 L440.80,133.37 L441.06,133.31 L441.32,133.24 L441.59,133.17 L441.85,133.10 L442.11,133.04 L442.38,132.97 L442.64,132.90 L442.90,132.83 L443.17,132.76 L443.43,132.69 L443.69,132.61 L443.96,132.54 L444.22,132.47 L444.48,132.40 L444.75,132.32 L445.01,132.25 L445.27,132.18 L445.54,132.10 L445.80,132.03 L446.06,131.95 L446.33,131.88 L446.59,131.80 L446.85,131.72 L447.12,131.65 L447.38,131.57 L447.64,131.49 L447.91,131.41 L448.17,131.34 L448.44,131.26 L448.70,131.18 L448.96,131.10 L449.23,131.02 L449.49,130.94 L449.75,130.86 L450.02,130.78 L450.28,130.70 L450.54,130.62 L450.81,130.54 L451.07,130.47 L451.33,130.39 L451.60,130.31 L451.86,130.23 L452.12,130.15 L452.39,130.06 L452.65,129.98 L452.91,129.90 L453.18,129.82 L453.44,129.73 L453.70,129.64 L453.97,129.56 L454.23,129.47 L454.49,129.38 L454.76,129.29 L455.02,129.20 L455.28,129.10 L455.55,129.01 L455.81,128.91 L456.08,128.81 L456.34,128.71 L456.60,128.60 L456.87,128.50 L457.13,128.39 L457.39,128.28 L457.66,128.16 L457.92,128.05 L458.18,127.92 L458.45,127.80 L458.71,127.67 L458.97,127.54 L459.24,127.40 L459.50,127.26 L459.76,127.12 L460.03,126.98 L460.29,126.83 L460.55,126.68 L460.82,126.53 L461.08,126.38 L461.34,126.23 L461.61,126.07 L461.87,125.91 L462.13,125.75 L462.40,125.59 L462.66,125.43 L462.92,125.27 L463.19,125.10 L463.45,124.94 L463.71,124.78 L463.98,124.61 L464.24,124.45 L464.51,124.28 L464.77,124.11 L465.03,123.94 L465.30,123.77 L465.56,123.59 L465.82,123.42 L466.09,123.24 L466.35,123.06 L466.61,122.88 L466.88,122.70 L467.14,122.52 L467.40,122.34 L467.67,122.15 L467.93,121.96 L468.19,121.77 L468.46,121.58 L468.72,121.39 L468.98,121.19 L469.25,121.00 L469.51,120.80 L469.77,120.60 L470.04,120.40 L470.30,120.20 L470.56,119.99 L470.83,119.79 L471.09,119.58 L471.35,119.37 L471.62,119.16 L471.88,118.95 L472.15,118.74 L472.41,118.53 L472.67,118.31 L472.94,118.09 L473.20,117.87 L473.46,117.65 L473.73,117.42 L473.99,117.20 L474.25,116.97 L474.52,116.74 L474.78,116.50 L475.04,116.27 L475.31,116.03 L475.57,115.79 L475.83,115.55 L476.10,115.31 L476.36,115.06 L476.62,114.81 L476.89,114.56 L477.15,114.31 L477.41,114.06 L477.68,113.80 L477.94,113.55 L478.20,113.29 L478.47,113.02 L478.73,112.76 L478.99,112.50 L479.26,112.23 L479.52,111.96 L479.78,111.69 L480.05,111.41 L480.31,111.14 L480.58,110.86 L480.84,110.58 L481.10,110.29 L481.37,109.99 L481.63,109.69 L481.89,109.39 L482.16,109.08 L482.42,108.77 L482.68,108.46 L482.95,108.15 L483.21,107.83 L483.47,107.51 L483.74,107.19 L484.00,106.86 L484.26,106.54 L484.53,106.22 L484.79,105.89 L485.05,105.57 L485.32,105.25 L485.58,104.92 L485.84,104.60 L486.11,104.28 L486.37,103.97 L486.63,103.65 L486.90,103.34 L487.16,103.03 L487.42,102.72 L487.69,102.40 L487.95,102.09 L488.22,101.78 L488.48,101.47 L488.74,101.16 L489.01,100.84 L489.27,100.53 L489.53,100.22 L489.80,99.91 L490.06,99.59 L490.32,99.28 L490.59,98.97 L490.85,98.66 L491.11,98.35 L491.38,98.03 L491.64,97.72 L491.90,97.41 L492.17,97.10 L492.43,96.78 L492.69,96.47 L492.96,96.16" fill="none" stroke="#ff0000" stroke-width="2.6" stroke-dasharray="8.5,9" stroke-linejoin="round" stroke-dashoffset="4.43"/>
<rect x="323.1" y="9.7" width="209.70" height="136.80" fill="none" stroke="#5e5e5e" stroke-width="1.8"/>
<line x1="344.07" y1="146.5" x2="344.07" y2="143.7" stroke="#5e5e5e" stroke-width="1.2"/>
<line x1="365.04" y1="146.5" x2="365.04" y2="143.7" stroke="#5e5e5e" stroke-width="1.2"/>
<line x1="386.01" y1="146.5" x2="386.01" y2="143.7" stroke="#5e5e5e" stroke-width="1.2"/>
<line x1="406.98" y1="146.5" x2="406.98" y2="143.7" stroke="#5e5e5e" stroke-width="1.2"/>
<line x1="427.95" y1="146.5" x2="427.95" y2="143.7" stroke="#5e5e5e" stroke-width="1.2"/>
<line x1="448.92" y1="146.5" x2="448.92" y2="143.7" stroke="#5e5e5e" stroke-width="1.2"/>
<line x1="469.89" y1="146.5" x2="469.89" y2="143.7" stroke="#5e5e5e" stroke-width="1.2"/>
<line x1="490.86" y1="146.5" x2="490.86" y2="143.7" stroke="#5e5e5e" stroke-width="1.2"/>
<line x1="511.83" y1="146.5" x2="511.83" y2="143.7" stroke="#5e5e5e" stroke-width="1.2"/>
<line x1="323.1" y1="138.10" x2="326.1" y2="138.10" stroke="#5e5e5e" stroke-width="1.2"/>
<text transform="translate(319.60,141.60) scale(1.120,1.000)" font-size="10.2" font-weight="bold" text-anchor="end" fill="#000" stroke="#000" stroke-width="0.3">0</text>
<line x1="323.1" y1="91.90" x2="326.1" y2="91.90" stroke="#5e5e5e" stroke-width="1.2"/>
<text transform="translate(319.60,95.40) scale(1.120,1.000)" font-size="10.2" font-weight="bold" text-anchor="end" fill="#000" stroke="#000" stroke-width="0.3">500</text>
<line x1="323.1" y1="45.70" x2="326.1" y2="45.70" stroke="#5e5e5e" stroke-width="1.2"/>
<text transform="translate(319.60,49.20) scale(1.120,1.000)" font-size="10.2" font-weight="bold" text-anchor="end" fill="#000" stroke="#000" stroke-width="0.3">1000</text>
<text transform="translate(323.10,158.80) scale(1.250,1.000)" font-size="9.8" font-weight="bold" text-anchor="middle" fill="#000" stroke="#000" stroke-width="0.3">0.0</text>
<text transform="translate(344.07,158.80) scale(1.250,1.000)" font-size="9.8" font-weight="bold" text-anchor="middle" fill="#000" stroke="#000" stroke-width="0.3">0.1</text>
<text transform="translate(365.04,158.80) scale(1.250,1.000)" font-size="9.8" font-weight="bold" text-anchor="middle" fill="#000" stroke="#000" stroke-width="0.3">0.2</text>
<text transform="translate(386.01,158.80) scale(1.250,1.000)" font-size="9.8" font-weight="bold" text-anchor="middle" fill="#000" stroke="#000" stroke-width="0.3">0.3</text>
<text transform="translate(406.98,158.80) scale(1.250,1.000)" font-size="9.8" font-weight="bold" text-anchor="middle" fill="#000" stroke="#000" stroke-width="0.3">0.4</text>
<text transform="translate(427.95,158.80) scale(1.250,1.000)" font-size="9.8" font-weight="bold" text-anchor="middle" fill="#000" stroke="#000" stroke-width="0.3">0.5</text>
<text transform="translate(448.92,158.80) scale(1.250,1.000)" font-size="9.8" font-weight="bold" text-anchor="middle" fill="#000" stroke="#000" stroke-width="0.3">0.6</text>
<text transform="translate(469.89,158.80) scale(1.250,1.000)" font-size="9.8" font-weight="bold" text-anchor="middle" fill="#000" stroke="#000" stroke-width="0.3">0.7</text>
<text transform="translate(490.86,158.80) scale(1.250,1.000)" font-size="9.8" font-weight="bold" text-anchor="middle" fill="#000" stroke="#000" stroke-width="0.3">0.8</text>
<text transform="translate(511.83,158.80) scale(1.250,1.000)" font-size="9.8" font-weight="bold" text-anchor="middle" fill="#000" stroke="#000" stroke-width="0.3">0.9</text>
<text transform="translate(532.80,158.80) scale(1.250,1.000)" font-size="9.8" font-weight="bold" text-anchor="middle" fill="#000" stroke="#000" stroke-width="0.3">1.0</text>
<text transform="translate(428.10,171.80) scale(1.300,1.000)" font-size="12.2" font-weight="bold" text-anchor="middle" fill="#000" stroke="#000" stroke-width="0.3">Potential (V)</text>
<text transform="translate(289.00,86.70) rotate(-90) scale(1.000,1.050)" font-size="14.6" font-weight="bold" text-anchor="middle" fill="#000" stroke="#000" stroke-width="0.3">I (μA)</text>
<text transform="translate(511.30,29.20) scale(1.060,1.000)" font-size="27.3" font-weight="bold" text-anchor="middle" fill="#0a0a0a" stroke="#0a0a0a" stroke-width="0.5">(b)</text>
<rect x="386.5" y="15.5" width="73.8" height="69" fill="none" stroke="#bdbdbd" stroke-width="1"/>
<line x1="387.9" y1="27.40" x2="403.2" y2="27.40" stroke="#ff0000" stroke-width="2.2"/>
<text transform="translate(403.40,29.90)" font-size="14.3" font-weight="bold" text-anchor="start" fill="#000" textLength="45.8" lengthAdjust="spacingAndGlyphs" stroke="#000" stroke-width="0.3">ZnO-T</text>
<line x1="387.9" y1="44.30" x2="403.2" y2="44.30" stroke="#008000" stroke-width="2.2"/>
<text transform="translate(406.90,46.80)" font-size="14.3" font-weight="bold" text-anchor="start" fill="#000" textLength="51.0" lengthAdjust="spacingAndGlyphs" stroke="#000" stroke-width="0.3">CZF-10</text>
<line x1="387.9" y1="61.20" x2="403.2" y2="61.20" stroke="#0000ff" stroke-width="2.2"/>
<text transform="translate(406.90,63.70)" font-size="14.3" font-weight="bold" text-anchor="start" fill="#000" textLength="51.0" lengthAdjust="spacingAndGlyphs" stroke="#000" stroke-width="0.3">CZF-20</text>
<line x1="387.9" y1="78.10" x2="396.6" y2="78.10" stroke="#ff0000" stroke-width="2.2"/>
<text transform="translate(406.90,80.60)" font-size="14.3" font-weight="bold" text-anchor="start" fill="#000" textLength="51.0" lengthAdjust="spacingAndGlyphs" stroke="#000" stroke-width="0.3">CZF-30</text>
<path d="M49.80,310.19 L50.79,310.13 L51.79,310.08 L52.78,310.03 L53.77,309.97 L54.76,309.92 L55.76,309.87 L56.75,309.82 L57.74,309.77 L58.74,309.73 L59.73,309.68 L60.72,309.64 L61.72,309.59 L62.71,309.55 L63.70,309.51 L64.69,309.48 L65.69,309.44 L66.68,309.41 L67.67,309.37 L68.67,309.34 L69.66,309.31 L70.65,309.28 L71.65,309.26 L72.64,309.23 L73.63,309.21 L74.62,309.18 L75.62,309.16 L76.61,309.14 L77.60,309.12 L78.60,309.10 L79.59,309.08 L80.58,309.06 L81.57,309.05 L82.57,309.03 L83.56,309.02 L84.55,309.00 L85.55,308.99 L86.54,308.98 L87.53,308.97 L88.53,308.96 L89.52,308.95 L90.51,308.94 L91.50,308.93 L92.50,308.92 L93.49,308.91 L94.48,308.91 L95.48,308.90 L96.47,308.89 L97.46,308.89 L98.46,308.88 L99.45,308.87 L100.44,308.87 L101.43,308.86 L102.43,308.86 L103.42,308.85 L104.41,308.85 L105.41,308.84 L106.40,308.84 L107.39,308.83 L108.38,308.83 L109.38,308.82 L110.37,308.81 L111.36,308.80 L112.36,308.80 L113.35,308.79 L114.34,308.77 L115.34,308.76 L116.33,308.75 L117.32,308.74 L118.31,308.72 L119.31,308.70 L120.30,308.69 L121.29,308.67 L122.29,308.64 L123.28,308.62 L124.27,308.60 L125.27,308.57 L126.26,308.54 L127.25,308.51 L128.24,308.48 L129.24,308.44 L130.23,308.40 L131.22,308.36 L132.22,308.32 L133.21,308.27 L134.20,308.22 L135.19,308.17 L136.19,308.12 L137.18,308.06 L138.17,308.00 L139.17,307.94 L140.16,307.87 L141.15,307.80 L142.15,307.73 L143.14,307.66 L144.13,307.58 L145.12,307.50 L146.12,307.41 L147.11,307.33 L148.10,307.24 L149.10,307.15 L150.09,307.05 L151.08,306.96 L152.08,306.86 L153.07,306.77 L154.06,306.67 L155.05,306.56 L156.05,306.46 L157.04,306.36 L158.03,306.25 L159.03,306.15 L160.02,306.04 L161.01,305.94 L162.01,305.83 L163.00,305.72 L163.99,305.61 L164.98,305.50 L165.98,305.39 L166.97,305.28 L167.96,305.17 L168.96,305.06 L169.95,304.95 L170.94,304.83 L171.93,304.72 L172.93,304.60 L173.92,304.48 L174.91,304.36 L175.91,304.24 L176.90,304.12 L177.89,304.00 L178.89,303.88 L179.88,303.76 L180.87,303.63 L181.86,303.50 L182.86,303.37 L183.85,303.24 L184.84,303.11 L185.84,302.98 L186.83,302.84 L187.82,302.70 L188.82,302.56 L189.81,302.41 L190.80,302.26 L191.79,302.11 L192.79,301.95 L193.78,301.79 L194.77,301.63 L195.77,301.46 L196.76,301.28 L197.75,301.10 L198.74,300.91 L199.74,300.71 L200.73,300.51 L201.72,300.30 L202.72,300.08 L203.71,299.84 L204.70,299.60 L205.70,299.35 L206.69,299.08 L207.68,298.79 L208.67,298.49 L209.67,298.17 L210.66,297.83 L211.65,297.48 L212.65,297.10 L213.64,296.69 L214.63,296.26 L215.63,295.79 L216.62,295.29 L217.61,294.75 L218.60,294.17 L219.60,293.54 L220.59,292.86 L221.58,292.13 L222.58,291.34 L223.57,290.48 L224.56,289.56 L225.55,288.58 L226.55,287.51 L227.54,286.37 L228.53,285.13 L229.53,283.80 L230.52,282.36 L231.51,280.80 L232.51,279.11 L233.50,277.30 L234.49,275.34 L235.48,273.23 L236.48,270.96 L237.47,268.53 L238.46,265.94 L239.46,263.20 L240.45,260.31 L241.44,257.29 L242.44,254.14 L243.43,250.89 L244.42,247.56 L245.41,244.17 L246.41,240.74 L247.40,237.29 L247.40,237.64 L246.42,241.94 L245.45,246.20 L244.47,250.39 L243.50,254.49 L242.52,258.46 L241.54,262.27 L240.57,265.88 L239.59,269.28 L238.62,272.41 L237.64,275.31 L236.66,277.96 L235.69,280.39 L234.71,282.61 L233.73,284.63 L232.76,286.47 L231.78,288.13 L230.81,289.63 L229.83,290.98 L228.85,292.20 L227.88,293.31 L226.90,294.31 L225.93,295.22 L224.95,296.06 L223.97,296.83 L223.00,297.55 L222.02,298.22 L221.05,298.86 L220.07,299.46 L219.09,300.03 L218.12,300.57 L217.14,301.08 L216.17,301.56 L215.19,302.02 L214.21,302.45 L213.24,302.86 L212.26,303.24 L211.28,303.61 L210.31,303.96 L209.33,304.29 L208.36,304.60 L207.38,304.89 L206.40,305.17 L205.43,305.44 L204.45,305.68 L203.48,305.92 L202.50,306.14 L201.52,306.36 L200.55,306.56 L199.57,306.75 L198.60,306.93 L197.62,307.10 L196.64,307.26 L195.67,307.41 L194.69,307.56 L193.72,307.69 L192.74,307.82 L191.76,307.95 L190.79,308.06 L189.81,308.18 L188.83,308.28 L187.86,308.38 L186.88,308.47 L185.91,308.56 L184.93,308.65 L183.95,308.73 L182.98,308.81 L182.00,308.88 L181.03,308.95 L180.05,309.02 L179.07,309.08 L178.10,309.14 L177.12,309.20 L176.15,309.25 L175.17,309.31 L174.19,309.36 L173.22,309.41 L172.24,309.46 L171.27,309.50 L170.29,309.55 L169.31,309.59 L168.34,309.63 L167.36,309.68 L166.38,309.72 L165.41,309.75 L164.43,309.79 L163.46,309.83 L162.48,309.87 L161.50,309.91 L160.53,309.95 L159.55,309.98 L158.58,310.02 L157.60,310.06 L156.62,310.10 L155.65,310.14 L154.67,310.17 L153.70,310.21 L152.72,310.25 L151.74,310.29 L150.77,310.32 L149.79,310.36 L148.82,310.39 L147.84,310.43 L146.86,310.46 L145.89,310.49 L144.91,310.53 L143.94,310.56 L142.96,310.58 L141.98,310.61 L141.01,310.64 L140.03,310.66 L139.05,310.69 L138.08,310.71 L137.10,310.73 L136.13,310.75 L135.15,310.76 L134.17,310.78 L133.20,310.79 L132.22,310.81 L131.25,310.82 L130.27,310.83 L129.29,310.84 L128.32,310.85 L127.34,310.86 L126.37,310.87 L125.39,310.87 L124.41,310.88 L123.44,310.89 L122.46,310.89 L121.49,310.90 L120.51,310.90 L119.53,310.91 L118.56,310.91 L117.58,310.92 L116.60,310.92 L115.63,310.92 L114.65,310.93 L113.68,310.93 L112.70,310.94 L111.72,310.94 L110.75,310.95 L109.77,310.95 L108.80,310.96 L107.82,310.96 L106.84,310.97 L105.87,310.98 L104.89,310.99 L103.92,311.00 L102.94,311.01 L101.96,311.02 L100.99,311.03 L100.01,311.04 L99.04,311.06 L98.06,311.07 L97.08,311.09 L96.11,311.11 L95.13,311.12 L94.15,311.14 L93.18,311.16 L92.20,311.19 L91.23,311.21 L90.25,311.23 L89.27,311.26 L88.30,311.28 L87.32,311.31 L86.35,311.34 L85.37,311.36 L84.39,311.39 L83.42,311.42 L82.44,311.45 L81.47,311.48 L80.49,311.51 L79.51,311.55 L78.54,311.58 L77.56,311.61 L76.59,311.65 L75.61,311.68 L74.63,311.72 L73.66,311.75 L72.68,311.79 L71.70,311.83 L70.73,311.87 L69.75,311.90 L68.78,311.94 L67.80,311.98 L66.82,312.02 L65.85,312.06 L64.87,312.10 L63.90,312.14 L62.92,312.18 L61.94,312.22 L60.97,312.26 L59.99,312.30 L59.02,312.34 L58.04,312.38 L57.06,312.42 L56.09,312.46 L55.11,312.51 L54.14,312.55 L53.16,312.59" fill="none" stroke="#ff0000" stroke-width="2.0" stroke-linejoin="round"/>
<path d="M49.80,310.18 L50.79,310.10 L51.79,310.01 L52.78,309.92 L53.77,309.84 L54.76,309.75 L55.76,309.67 L56.75,309.58 L57.74,309.50 L58.74,309.42 L59.73,309.34 L60.72,309.27 L61.72,309.19 L62.71,309.12 L63.70,309.05 L64.69,308.98 L65.69,308.92 L66.68,308.85 L67.67,308.79 L68.67,308.73 L69.66,308.67 L70.65,308.61 L71.65,308.55 L72.64,308.50 L73.63,308.44 L74.62,308.39 L75.62,308.34 L76.61,308.29 L77.60,308.25 L78.60,308.20 L79.59,308.16 L80.58,308.12 L81.57,308.08 L82.57,308.04 L83.56,308.00 L84.55,307.97 L85.55,307.93 L86.54,307.90 L87.53,307.87 L88.53,307.84 L89.52,307.81 L90.51,307.78 L91.50,307.75 L92.50,307.73 L93.49,307.70 L94.48,307.68 L95.48,307.66 L96.47,307.64 L97.46,307.62 L98.46,307.60 L99.45,307.58 L100.44,307.57 L101.43,307.55 L102.43,307.54 L103.42,307.52 L104.41,307.51 L105.41,307.50 L106.40,307.48 L107.39,307.47 L108.38,307.46 L109.38,307.44 L110.37,307.43 L111.36,307.42 L112.36,307.40 L113.35,307.38 L114.34,307.37 L115.34,307.35 L116.33,307.33 L117.32,307.31 L118.31,307.28 L119.31,307.26 L120.30,307.23 L121.29,307.20 L122.29,307.17 L123.28,307.13 L124.27,307.09 L125.27,307.05 L126.26,307.01 L127.25,306.96 L128.24,306.91 L129.24,306.86 L130.23,306.80 L131.22,306.74 L132.22,306.67 L133.21,306.60 L134.20,306.53 L135.19,306.45 L136.19,306.36 L137.18,306.28 L138.17,306.18 L139.17,306.08 L140.16,305.98 L141.15,305.87 L142.15,305.76 L143.14,305.64 L144.13,305.51 L145.12,305.39 L146.12,305.25 L147.11,305.12 L148.10,304.98 L149.10,304.84 L150.09,304.69 L151.08,304.54 L152.08,304.39 L153.07,304.24 L154.06,304.09 L155.05,303.93 L156.05,303.78 L157.04,303.62 L158.03,303.46 L159.03,303.31 L160.02,303.15 L161.01,302.99 L162.01,302.83 L163.00,302.67 L163.99,302.52 L164.98,302.36 L165.98,302.20 L166.97,302.05 L167.96,301.89 L168.96,301.73 L169.95,301.58 L170.94,301.42 L171.93,301.26 L172.93,301.11 L173.92,300.95 L174.91,300.80 L175.91,300.64 L176.90,300.48 L177.89,300.33 L178.89,300.17 L179.88,300.02 L180.87,299.86 L181.86,299.70 L182.86,299.55 L183.85,299.39 L184.84,299.23 L185.84,299.06 L186.83,298.89 L187.82,298.72 L188.82,298.55 L189.81,298.37 L190.80,298.18 L191.79,297.99 L192.79,297.79 L193.78,297.59 L194.77,297.38 L195.77,297.16 L196.76,296.94 L197.75,296.72 L198.74,296.48 L199.74,296.24 L200.73,295.99 L201.72,295.74 L202.72,295.47 L203.71,295.19 L204.70,294.90 L205.70,294.59 L206.69,294.27 L207.68,293.92 L208.67,293.56 L209.67,293.17 L210.66,292.76 L211.65,292.32 L212.65,291.85 L213.64,291.35 L214.63,290.82 L215.63,290.25 L216.62,289.65 L217.61,289.01 L218.60,288.33 L219.60,287.60 L220.59,286.82 L221.58,286.00 L222.58,285.12 L223.57,284.18 L224.56,283.19 L225.55,282.13 L226.55,281.01 L227.54,279.82 L228.53,278.55 L229.53,277.20 L230.52,275.77 L231.51,274.24 L232.51,272.60 L233.50,270.83 L234.49,268.91 L235.48,266.82 L236.48,264.52 L237.47,262.02 L238.46,259.29 L239.46,256.35 L240.45,253.20 L241.44,249.87 L242.44,246.39 L243.43,242.78 L244.42,239.08 L245.41,235.29 L246.41,231.46 L247.40,227.60 L247.40,228.01 L246.42,233.69 L245.45,239.34 L244.47,244.91 L243.50,250.36 L242.52,255.65 L241.54,260.76 L240.57,265.62 L239.59,270.22 L238.62,274.51 L237.64,278.49 L236.66,282.16 L235.69,285.52 L234.71,288.57 L233.73,291.31 L232.76,293.75 L231.78,295.88 L230.81,297.72 L229.83,299.30 L228.85,300.65 L227.88,301.81 L226.90,302.81 L225.93,303.68 L224.95,304.43 L223.97,305.08 L223.00,305.66 L222.02,306.18 L221.05,306.67 L220.07,307.13 L219.09,307.57 L218.12,307.99 L217.14,308.39 L216.17,308.77 L215.19,309.14 L214.21,309.48 L213.24,309.81 L212.26,310.13 L211.28,310.43 L210.31,310.71 L209.33,310.98 L208.36,311.24 L207.38,311.48 L206.40,311.72 L205.43,311.94 L204.45,312.15 L203.48,312.35 L202.50,312.54 L201.52,312.72 L200.55,312.89 L199.57,313.05 L198.60,313.20 L197.62,313.34 L196.64,313.48 L195.67,313.60 L194.69,313.72 L193.72,313.84 L192.74,313.94 L191.76,314.04 L190.79,314.14 L189.81,314.23 L188.83,314.31 L187.86,314.39 L186.88,314.46 L185.91,314.53 L184.93,314.59 L183.95,314.65 L182.98,314.71 L182.00,314.76 L181.03,314.81 L180.05,314.85 L179.07,314.89 L178.10,314.92 L177.12,314.96 L176.15,314.99 L175.17,315.01 L174.19,315.03 L173.22,315.05 L172.24,315.07 L171.27,315.08 L170.29,315.09 L169.31,315.10 L168.34,315.11 L167.36,315.11 L166.38,315.11 L165.41,315.11 L164.43,315.10 L163.46,315.10 L162.48,315.09 L161.50,315.08 L160.53,315.07 L159.55,315.05 L158.58,315.04 L157.60,315.02 L156.62,315.00 L155.65,314.98 L154.67,314.96 L153.70,314.93 L152.72,314.91 L151.74,314.89 L150.77,314.86 L149.79,314.83 L148.82,314.81 L147.84,314.78 L146.86,314.75 L145.89,314.72 L144.91,314.69 L143.94,314.67 L142.96,314.64 L141.98,314.61 L141.01,314.58 L140.03,314.56 L139.05,314.53 L138.08,314.50 L137.10,314.48 L136.13,314.45 L135.15,314.43 L134.17,314.40 L133.20,314.38 L132.22,314.35 L131.25,314.33 L130.27,314.31 L129.29,314.29 L128.32,314.27 L127.34,314.25 L126.37,314.23 L125.39,314.21 L124.41,314.19 L123.44,314.17 L122.46,314.16 L121.49,314.14 L120.51,314.13 L119.53,314.11 L118.56,314.10 L117.58,314.08 L116.60,314.07 L115.63,314.06 L114.65,314.05 L113.68,314.04 L112.70,314.03 L111.72,314.02 L110.75,314.01 L109.77,314.01 L108.80,314.00 L107.82,313.99 L106.84,313.99 L105.87,313.99 L104.89,313.98 L103.92,313.98 L102.94,313.98 L101.96,313.98 L100.99,313.98 L100.01,313.98 L99.04,313.98 L98.06,313.99 L97.08,313.99 L96.11,314.00 L95.13,314.00 L94.15,314.01 L93.18,314.02 L92.20,314.03 L91.23,314.04 L90.25,314.05 L89.27,314.06 L88.30,314.07 L87.32,314.08 L86.35,314.10 L85.37,314.11 L84.39,314.12 L83.42,314.14 L82.44,314.16 L81.47,314.17 L80.49,314.19 L79.51,314.21 L78.54,314.22 L77.56,314.24 L76.59,314.26 L75.61,314.28 L74.63,314.30 L73.66,314.32 L72.68,314.34 L71.70,314.36 L70.73,314.38 L69.75,314.40 L68.78,314.43 L67.80,314.45 L66.82,314.47 L65.85,314.50 L64.87,314.52 L63.90,314.54 L62.92,314.57 L61.94,314.59 L60.97,314.61 L59.99,314.64 L59.02,314.66 L58.04,314.69 L57.06,314.71 L56.09,314.74 L55.11,314.76 L54.14,314.79 L53.16,314.81" fill="none" stroke="#008000" stroke-width="2.0" stroke-linejoin="round"/>
<path d="M49.80,310.17 L50.79,310.05 L51.79,309.92 L52.78,309.80 L53.77,309.67 L54.76,309.55 L55.76,309.43 L56.75,309.31 L57.74,309.19 L58.74,309.08 L59.73,308.97 L60.72,308.86 L61.72,308.76 L62.71,308.66 L63.70,308.56 L64.69,308.47 L65.69,308.38 L66.68,308.29 L67.67,308.20 L68.67,308.12 L69.66,308.04 L70.65,307.97 L71.65,307.89 L72.64,307.82 L73.63,307.75 L74.62,307.69 L75.62,307.63 L76.61,307.57 L77.60,307.51 L78.60,307.45 L79.59,307.40 L80.58,307.35 L81.57,307.30 L82.57,307.25 L83.56,307.21 L84.55,307.16 L85.55,307.12 L86.54,307.09 L87.53,307.05 L88.53,307.01 L89.52,306.98 L90.51,306.95 L91.50,306.92 L92.50,306.89 L93.49,306.86 L94.48,306.84 L95.48,306.82 L96.47,306.79 L97.46,306.77 L98.46,306.75 L99.45,306.73 L100.44,306.72 L101.43,306.70 L102.43,306.68 L103.42,306.67 L104.41,306.65 L105.41,306.64 L106.40,306.63 L107.39,306.61 L108.38,306.60 L109.38,306.58 L110.37,306.56 L111.36,306.55 L112.36,306.53 L113.35,306.51 L114.34,306.49 L115.34,306.46 L116.33,306.44 L117.32,306.41 L118.31,306.38 L119.31,306.35 L120.30,306.31 L121.29,306.27 L122.29,306.23 L123.28,306.18 L124.27,306.13 L125.27,306.08 L126.26,306.02 L127.25,305.96 L128.24,305.90 L129.24,305.83 L130.23,305.75 L131.22,305.67 L132.22,305.58 L133.21,305.49 L134.20,305.40 L135.19,305.29 L136.19,305.19 L137.18,305.07 L138.17,304.95 L139.17,304.82 L140.16,304.69 L141.15,304.54 L142.15,304.40 L143.14,304.24 L144.13,304.08 L145.12,303.91 L146.12,303.74 L147.11,303.56 L148.10,303.38 L149.10,303.19 L150.09,303.00 L151.08,302.80 L152.08,302.60 L153.07,302.39 L154.06,302.18 L155.05,301.97 L156.05,301.75 L157.04,301.53 L158.03,301.31 L159.03,301.08 L160.02,300.86 L161.01,300.63 L162.01,300.40 L163.00,300.16 L163.99,299.93 L164.98,299.69 L165.98,299.46 L166.97,299.22 L167.96,298.98 L168.96,298.74 L169.95,298.50 L170.94,298.26 L171.93,298.01 L172.93,297.77 L173.92,297.53 L174.91,297.29 L175.91,297.04 L176.90,296.80 L177.89,296.56 L178.89,296.32 L179.88,296.07 L180.87,295.83 L181.86,295.59 L182.86,295.35 L183.85,295.11 L184.84,294.87 L185.84,294.62 L186.83,294.38 L187.82,294.13 L188.82,293.87 L189.81,293.62 L190.80,293.36 L191.79,293.09 L192.79,292.82 L193.78,292.55 L194.77,292.27 L195.77,291.99 L196.76,291.70 L197.75,291.40 L198.74,291.10 L199.74,290.79 L200.73,290.48 L201.72,290.15 L202.72,289.82 L203.71,289.48 L204.70,289.12 L205.70,288.74 L206.69,288.35 L207.68,287.94 L208.67,287.50 L209.67,287.04 L210.66,286.55 L211.65,286.04 L212.65,285.49 L213.64,284.92 L214.63,284.30 L215.63,283.65 L216.62,282.96 L217.61,282.23 L218.60,281.45 L219.60,280.62 L220.59,279.74 L221.58,278.80 L222.58,277.80 L223.57,276.73 L224.56,275.60 L225.55,274.39 L226.55,273.11 L227.54,271.74 L228.53,270.25 L229.53,268.65 L230.52,266.90 L231.51,265.00 L232.51,262.93 L233.50,260.71 L234.49,258.33 L235.48,255.80 L236.48,253.13 L237.47,250.30 L238.46,247.34 L239.46,244.24 L240.45,241.02 L241.44,237.70 L242.44,234.29 L243.43,230.80 L244.42,227.25 L245.41,223.66 L246.41,220.03 L247.40,216.40 L247.40,218.08 L246.42,225.22 L245.45,232.28 L244.47,239.19 L243.50,245.88 L242.52,252.26 L241.54,258.28 L240.57,263.86 L239.59,269.02 L238.62,273.77 L237.64,278.12 L236.66,282.09 L235.69,285.69 L234.71,288.93 L233.73,291.84 L232.76,294.42 L231.78,296.72 L230.81,298.76 L229.83,300.58 L228.85,302.20 L227.88,303.67 L226.90,305.02 L225.93,306.27 L224.95,307.41 L223.97,308.46 L223.00,309.43 L222.02,310.33 L221.05,311.15 L220.07,311.92 L219.09,312.63 L218.12,313.28 L217.14,313.88 L216.17,314.43 L215.19,314.94 L214.21,315.40 L213.24,315.82 L212.26,316.21 L211.28,316.56 L210.31,316.88 L209.33,317.18 L208.36,317.44 L207.38,317.68 L206.40,317.90 L205.43,318.09 L204.45,318.27 L203.48,318.42 L202.50,318.56 L201.52,318.68 L200.55,318.78 L199.57,318.88 L198.60,318.96 L197.62,319.03 L196.64,319.09 L195.67,319.15 L194.69,319.19 L193.72,319.23 L192.74,319.27 L191.76,319.29 L190.79,319.32 L189.81,319.34 L188.83,319.36 L187.86,319.37 L186.88,319.39 L185.91,319.40 L184.93,319.41 L183.95,319.42 L182.98,319.43 L182.00,319.44 L181.03,319.46 L180.05,319.47 L179.07,319.48 L178.10,319.49 L177.12,319.51 L176.15,319.52 L175.17,319.53 L174.19,319.55 L173.22,319.56 L172.24,319.57 L171.27,319.58 L170.29,319.59 L169.31,319.60 L168.34,319.61 L167.36,319.61 L166.38,319.61 L165.41,319.61 L164.43,319.61 L163.46,319.60 L162.48,319.59 L161.50,319.57 L160.53,319.55 L159.55,319.53 L158.58,319.50 L157.60,319.47 L156.62,319.44 L155.65,319.40 L154.67,319.36 L153.70,319.31 L152.72,319.26 L151.74,319.21 L150.77,319.16 L149.79,319.10 L148.82,319.04 L147.84,318.98 L146.86,318.92 L145.89,318.86 L144.91,318.79 L143.94,318.73 L142.96,318.66 L141.98,318.60 L141.01,318.53 L140.03,318.46 L139.05,318.39 L138.08,318.33 L137.10,318.26 L136.13,318.19 L135.15,318.13 L134.17,318.06 L133.20,317.99 L132.22,317.93 L131.25,317.86 L130.27,317.80 L129.29,317.73 L128.32,317.67 L127.34,317.61 L126.37,317.55 L125.39,317.49 L124.41,317.43 L123.44,317.37 L122.46,317.31 L121.49,317.25 L120.51,317.19 L119.53,317.14 L118.56,317.09 L117.58,317.03 L116.60,316.98 L115.63,316.93 L114.65,316.88 L113.68,316.84 L112.70,316.79 L111.72,316.74 L110.75,316.70 L109.77,316.66 L108.80,316.62 L107.82,316.58 L106.84,316.55 L105.87,316.51 L104.89,316.48 L103.92,316.45 L102.94,316.42 L101.96,316.40 L100.99,316.37 L100.01,316.35 L99.04,316.33 L98.06,316.31 L97.08,316.30 L96.11,316.28 L95.13,316.27 L94.15,316.26 L93.18,316.25 L92.20,316.25 L91.23,316.24 L90.25,316.24 L89.27,316.24 L88.30,316.24 L87.32,316.24 L86.35,316.25 L85.37,316.25 L84.39,316.26 L83.42,316.27 L82.44,316.28 L81.47,316.29 L80.49,316.31 L79.51,316.32 L78.54,316.34 L77.56,316.35 L76.59,316.37 L75.61,316.39 L74.63,316.41 L73.66,316.43 L72.68,316.45 L71.70,316.48 L70.73,316.50 L69.75,316.53 L68.78,316.55 L67.80,316.58 L66.82,316.60 L65.85,316.63 L64.87,316.66 L63.90,316.69 L62.92,316.72 L61.94,316.75 L60.97,316.78 L59.99,316.81 L59.02,316.84 L58.04,316.87 L57.06,316.90 L56.09,316.93 L55.11,316.96 L54.14,317.00 L53.16,317.03" fill="none" stroke="#0000ff" stroke-width="2.0" stroke-linejoin="round"/>
<path d="M49.80,310.17 L50.79,310.02 L51.79,309.87 L52.78,309.72 L53.77,309.57 L54.76,309.42 L55.76,309.27 L56.75,309.13 L57.74,308.99 L58.74,308.85 L59.73,308.72 L60.72,308.59 L61.72,308.47 L62.71,308.34 L63.70,308.23 L64.69,308.11 L65.69,308.00 L66.68,307.89 L67.67,307.79 L68.67,307.69 L69.66,307.59 L70.65,307.50 L71.65,307.40 L72.64,307.31 L73.63,307.23 L74.62,307.14 L75.62,307.06 L76.61,306.98 L77.60,306.90 L78.60,306.83 L79.59,306.75 L80.58,306.68 L81.57,306.61 L82.57,306.54 L83.56,306.47 L84.55,306.41 L85.55,306.34 L86.54,306.28 L87.53,306.22 L88.53,306.15 L89.52,306.09 L90.51,306.03 L91.50,305.97 L92.50,305.91 L93.49,305.85 L94.48,305.80 L95.48,305.74 L96.47,305.68 L97.46,305.62 L98.46,305.56 L99.45,305.50 L100.44,305.44 L101.43,305.38 L102.43,305.32 L103.42,305.26 L104.41,305.20 L105.41,305.14 L106.40,305.07 L107.39,305.01 L108.38,304.94 L109.38,304.87 L110.37,304.81 L111.36,304.74 L112.36,304.67 L113.35,304.59 L114.34,304.52 L115.34,304.44 L116.33,304.36 L117.32,304.28 L118.31,304.20 L119.31,304.12 L120.30,304.03 L121.29,303.95 L122.29,303.85 L123.28,303.76 L124.27,303.67 L125.27,303.57 L126.26,303.47 L127.25,303.37 L128.24,303.26 L129.24,303.15 L130.23,303.04 L131.22,302.92 L132.22,302.81 L133.21,302.69 L134.20,302.56 L135.19,302.43 L136.19,302.30 L137.18,302.17 L138.17,302.03 L139.17,301.89 L140.16,301.74 L141.15,301.59 L142.15,301.44 L143.14,301.28 L144.13,301.11 L145.12,300.94 L146.12,300.77 L147.11,300.59 L148.10,300.41 L149.10,300.22 L150.09,300.02 L151.08,299.82 L152.08,299.61 L153.07,299.40 L154.06,299.17 L155.05,298.94 L156.05,298.71 L157.04,298.46 L158.03,298.21 L159.03,297.95 L160.02,297.68 L161.01,297.40 L162.01,297.12 L163.00,296.82 L163.99,296.52 L164.98,296.22 L165.98,295.90 L166.97,295.59 L167.96,295.26 L168.96,294.94 L169.95,294.61 L170.94,294.27 L171.93,293.94 L172.93,293.60 L173.92,293.26 L174.91,292.92 L175.91,292.58 L176.90,292.24 L177.89,291.90 L178.89,291.56 L179.88,291.23 L180.87,290.89 L181.86,290.56 L182.86,290.23 L183.85,289.90 L184.84,289.58 L185.84,289.25 L186.83,288.93 L187.82,288.61 L188.82,288.29 L189.81,287.98 L190.80,287.67 L191.79,287.35 L192.79,287.04 L193.78,286.73 L194.77,286.42 L195.77,286.11 L196.76,285.80 L197.75,285.48 L198.74,285.16 L199.74,284.83 L200.73,284.50 L201.72,284.17 L202.72,283.82 L203.71,283.46 L204.70,283.09 L205.70,282.70 L206.69,282.29 L207.68,281.85 L208.67,281.40 L209.67,280.91 L210.66,280.40 L211.65,279.85 L212.65,279.27 L213.64,278.64 L214.63,277.98 L215.63,277.28 L216.62,276.53 L217.61,275.72 L218.60,274.85 L219.60,273.92 L220.59,272.91 L221.58,271.81 L222.58,270.63 L223.57,269.35 L224.56,267.97 L225.55,266.49 L226.55,264.88 L227.54,263.16 L228.53,261.31 L229.53,259.34 L230.52,257.23 L231.51,254.99 L232.51,252.60 L233.50,250.08 L234.49,247.41 L235.48,244.59 L236.48,241.64 L237.47,238.56 L238.46,235.38 L239.46,232.09 L240.45,228.71 L241.44,225.25 L242.44,221.73 L243.43,218.15 L244.42,214.52 L245.41,210.86 L246.41,207.18 L247.40,203.49 L247.40,206.70 L246.42,216.06 L245.45,225.29 L244.47,234.27 L243.50,242.87 L242.52,250.96 L241.54,258.41 L240.57,265.15 L239.59,271.20 L238.62,276.62 L237.64,281.44 L236.66,285.73 L235.69,289.52 L234.71,292.88 L233.73,295.85 L232.76,298.48 L231.78,300.82 L230.81,302.91 L229.83,304.79 L228.85,306.46 L227.88,307.95 L226.90,309.30 L225.93,310.50 L224.95,311.59 L223.97,312.57 L223.00,313.45 L222.02,314.26 L221.05,315.01 L220.07,315.70 L219.09,316.34 L218.12,316.94 L217.14,317.49 L216.17,318.00 L215.19,318.47 L214.21,318.91 L213.24,319.31 L212.26,319.69 L211.28,320.03 L210.31,320.35 L209.33,320.64 L208.36,320.91 L207.38,321.16 L206.40,321.39 L205.43,321.61 L204.45,321.81 L203.48,321.99 L202.50,322.16 L201.52,322.32 L200.55,322.46 L199.57,322.60 L198.60,322.73 L197.62,322.86 L196.64,322.97 L195.67,323.08 L194.69,323.19 L193.72,323.28 L192.74,323.37 L191.76,323.45 L190.79,323.53 L189.81,323.60 L188.83,323.66 L187.86,323.72 L186.88,323.78 L185.91,323.83 L184.93,323.87 L183.95,323.91 L182.98,323.95 L182.00,323.98 L181.03,324.02 L180.05,324.04 L179.07,324.07 L178.10,324.09 L177.12,324.11 L176.15,324.13 L175.17,324.14 L174.19,324.15 L173.22,324.16 L172.24,324.17 L171.27,324.17 L170.29,324.17 L169.31,324.16 L168.34,324.15 L167.36,324.14 L166.38,324.12 L165.41,324.10 L164.43,324.08 L163.46,324.05 L162.48,324.02 L161.50,323.98 L160.53,323.94 L159.55,323.89 L158.58,323.84 L157.60,323.79 L156.62,323.73 L155.65,323.67 L154.67,323.60 L153.70,323.53 L152.72,323.46 L151.74,323.38 L150.77,323.30 L149.79,323.22 L148.82,323.14 L147.84,323.06 L146.86,322.97 L145.89,322.88 L144.91,322.79 L143.94,322.71 L142.96,322.62 L141.98,322.52 L141.01,322.43 L140.03,322.34 L139.05,322.25 L138.08,322.16 L137.10,322.08 L136.13,321.99 L135.15,321.90 L134.17,321.81 L133.20,321.72 L132.22,321.64 L131.25,321.55 L130.27,321.47 L129.29,321.38 L128.32,321.30 L127.34,321.22 L126.37,321.14 L125.39,321.06 L124.41,320.98 L123.44,320.90 L122.46,320.82 L121.49,320.75 L120.51,320.67 L119.53,320.60 L118.56,320.52 L117.58,320.45 L116.60,320.38 L115.63,320.31 L114.65,320.25 L113.68,320.18 L112.70,320.11 L111.72,320.05 L110.75,319.99 L109.77,319.93 L108.80,319.87 L107.82,319.81 L106.84,319.75 L105.87,319.70 L104.89,319.65 L103.92,319.60 L102.94,319.55 L101.96,319.50 L100.99,319.45 L100.01,319.41 L99.04,319.37 L98.06,319.33 L97.08,319.29 L96.11,319.25 L95.13,319.22 L94.15,319.19 L93.18,319.16 L92.20,319.13 L91.23,319.10 L90.25,319.07 L89.27,319.05 L88.30,319.02 L87.32,319.00 L86.35,318.98 L85.37,318.96 L84.39,318.94 L83.42,318.93 L82.44,318.91 L81.47,318.90 L80.49,318.88 L79.51,318.87 L78.54,318.86 L77.56,318.85 L76.59,318.84 L75.61,318.83 L74.63,318.83 L73.66,318.82 L72.68,318.81 L71.70,318.81 L70.73,318.81 L69.75,318.80 L68.78,318.80 L67.80,318.80 L66.82,318.80 L65.85,318.80 L64.87,318.80 L63.90,318.80 L62.92,318.80 L61.94,318.80 L60.97,318.80 L59.99,318.80 L59.02,318.81 L58.04,318.81 L57.06,318.81 L56.09,318.81 L55.11,318.82 L54.14,318.82 L53.16,318.82" fill="none" stroke="#ff0000" stroke-width="2.0" stroke-dasharray="10,3.5,2,3.5" stroke-linejoin="round"/>
<rect x="49.8" y="190.4" width="197.60" height="145.70" fill="none" stroke="#5e5e5e" stroke-width="1.8"/>
<line x1="69.56" y1="336.1" x2="69.56" y2="333.3" stroke="#5e5e5e" stroke-width="1.2"/>
<line x1="89.32" y1="336.1" x2="89.32" y2="333.3" stroke="#5e5e5e" stroke-width="1.2"/>
<line x1="109.08" y1="336.1" x2="109.08" y2="333.3" stroke="#5e5e5e" stroke-width="1.2"/>
<line x1="128.84" y1="336.1" x2="128.84" y2="333.3" stroke="#5e5e5e" stroke-width="1.2"/>
<line x1="148.60" y1="336.1" x2="148.60" y2="333.3" stroke="#5e5e5e" stroke-width="1.2"/>
<line x1="168.36" y1="336.1" x2="168.36" y2="333.3" stroke="#5e5e5e" stroke-width="1.2"/>
<line x1="188.12" y1="336.1" x2="188.12" y2="333.3" stroke="#5e5e5e" stroke-width="1.2"/>
<line x1="207.88" y1="336.1" x2="207.88" y2="333.3" stroke="#5e5e5e" stroke-width="1.2"/>
<line x1="227.64" y1="336.1" x2="227.64" y2="333.3" stroke="#5e5e5e" stroke-width="1.2"/>
<line x1="49.8" y1="310.20" x2="52.8" y2="310.20" stroke="#5e5e5e" stroke-width="1.2"/>
<text transform="translate(46.60,313.60) scale(1.120,1.000)" font-size="10.2" font-weight="bold" text-anchor="end" fill="#000" stroke="#000" stroke-width="0.3">0</text>
<line x1="49.8" y1="267.50" x2="52.8" y2="267.50" stroke="#5e5e5e" stroke-width="1.2"/>
<text transform="translate(46.60,270.90) scale(1.120,1.000)" font-size="10.2" font-weight="bold" text-anchor="end" fill="#000" stroke="#000" stroke-width="0.3">500</text>
<line x1="49.8" y1="224.80" x2="52.8" y2="224.80" stroke="#5e5e5e" stroke-width="1.2"/>
<text transform="translate(46.60,228.20) scale(1.120,1.000)" font-size="10.2" font-weight="bold" text-anchor="end" fill="#000" stroke="#000" stroke-width="0.3">1000</text>
<text transform="translate(49.80,349.30) scale(1.220,1.000)" font-size="9.8" font-weight="bold" text-anchor="middle" fill="#000" stroke="#000" stroke-width="0.3">0.0</text>
<text transform="translate(69.56,349.30) scale(1.220,1.000)" font-size="9.8" font-weight="bold" text-anchor="middle" fill="#000" stroke="#000" stroke-width="0.3">0.1</text>
<text transform="translate(89.32,349.30) scale(1.220,1.000)" font-size="9.8" font-weight="bold" text-anchor="middle" fill="#000" stroke="#000" stroke-width="0.3">0.2</text>
<text transform="translate(109.08,349.30) scale(1.220,1.000)" font-size="9.8" font-weight="bold" text-anchor="middle" fill="#000" stroke="#000" stroke-width="0.3">0.3</text>
<text transform="translate(128.84,349.30) scale(1.220,1.000)" font-size="9.8" font-weight="bold" text-anchor="middle" fill="#000" stroke="#000" stroke-width="0.3">0.4</text>
<text transform="translate(148.60,349.30) scale(1.220,1.000)" font-size="9.8" font-weight="bold" text-anchor="middle" fill="#000" stroke="#000" stroke-width="0.3">0.5</text>
<text transform="translate(168.36,349.30) scale(1.220,1.000)" font-size="9.8" font-weight="bold" text-anchor="middle" fill="#000" stroke="#000" stroke-width="0.3">0.6</text>
<text transform="translate(188.12,349.30) scale(1.220,1.000)" font-size="9.8" font-weight="bold" text-anchor="middle" fill="#000" stroke="#000" stroke-width="0.3">0.7</text>
<text transform="translate(207.88,349.30) scale(1.220,1.000)" font-size="9.8" font-weight="bold" text-anchor="middle" fill="#000" stroke="#000" stroke-width="0.3">0.8</text>
<text transform="translate(227.64,349.30) scale(1.220,1.000)" font-size="9.8" font-weight="bold" text-anchor="middle" fill="#000" stroke="#000" stroke-width="0.3">0.9</text>
<text transform="translate(247.40,349.30) scale(1.220,1.000)" font-size="9.8" font-weight="bold" text-anchor="middle" fill="#000" stroke="#000" stroke-width="0.3">1.0</text>
<text transform="translate(148.60,363.60) scale(1.260,1.000)" font-size="12.2" font-weight="bold" text-anchor="middle" fill="#000" stroke="#000" stroke-width="0.3">Potential (V)</text>
<text transform="translate(18.00,272.60) rotate(-90)" font-size="14.6" font-weight="bold" text-anchor="middle" fill="#000" stroke="#000" stroke-width="0.3">I (μA)</text>
<text transform="translate(229.50,209.80) scale(1.060,1.000)" font-size="27.3" font-weight="bold" text-anchor="middle" fill="#0a0a0a" stroke="#0a0a0a" stroke-width="0.5">(c)</text>
<rect x="80.6" y="196.5" width="75.1" height="60.3" fill="none" stroke="#bdbdbd" stroke-width="1"/>
<line x1="82.1" y1="205.90" x2="103" y2="205.90" stroke="#ff0000" stroke-width="2"/>
<text transform="translate(104.30,208.80)" font-size="10.8" font-weight="bold" text-anchor="start" fill="#000" textLength="42.3" lengthAdjust="spacingAndGlyphs" stroke="#000" stroke-width="0.3">20 mV/s</text>
<line x1="82.1" y1="220.60" x2="103" y2="220.60" stroke="#008000" stroke-width="2"/>
<text transform="translate(104.30,223.50)" font-size="10.8" font-weight="bold" text-anchor="start" fill="#000" textLength="42.3" lengthAdjust="spacingAndGlyphs" stroke="#000" stroke-width="0.3">80 mV/s</text>
<line x1="82.1" y1="235.30" x2="103" y2="235.30" stroke="#0000ff" stroke-width="2"/>
<text transform="translate(105.10,238.20)" font-size="10.8" font-weight="bold" text-anchor="start" fill="#000" textLength="47.8" lengthAdjust="spacingAndGlyphs" stroke="#000" stroke-width="0.3">140 mV/s</text>
<line x1="82.1" y1="250.00" x2="92.7" y2="250.00" stroke="#ff0000" stroke-width="2"/>
<line x1="97" y1="250.00" x2="99" y2="250.00" stroke="#ff0000" stroke-width="2"/>
<text transform="translate(105.10,252.90)" font-size="10.8" font-weight="bold" text-anchor="start" fill="#000" textLength="47.8" lengthAdjust="spacingAndGlyphs" stroke="#000" stroke-width="0.3">200 mV/s</text>
<rect x="327.4" y="191" width="209.40" height="148.80" fill="none" stroke="#5e5e5e" stroke-width="1.8"/>
<line x1="348.34" y1="339.8" x2="348.34" y2="338.0" stroke="#5e5e5e" stroke-width="1.1"/>
<line x1="369.28" y1="339.8" x2="369.28" y2="337.0" stroke="#5e5e5e" stroke-width="1.1"/>
<line x1="390.22" y1="339.8" x2="390.22" y2="338.0" stroke="#5e5e5e" stroke-width="1.1"/>
<line x1="411.16" y1="339.8" x2="411.16" y2="337.0" stroke="#5e5e5e" stroke-width="1.1"/>
<line x1="432.10" y1="339.8" x2="432.10" y2="338.0" stroke="#5e5e5e" stroke-width="1.1"/>
<line x1="453.04" y1="339.8" x2="453.04" y2="337.0" stroke="#5e5e5e" stroke-width="1.1"/>
<line x1="473.98" y1="339.8" x2="473.98" y2="338.0" stroke="#5e5e5e" stroke-width="1.1"/>
<line x1="494.92" y1="339.8" x2="494.92" y2="337.0" stroke="#5e5e5e" stroke-width="1.1"/>
<line x1="515.86" y1="339.8" x2="515.86" y2="338.0" stroke="#5e5e5e" stroke-width="1.1"/>
<line x1="327.4" y1="324.92" x2="329.2" y2="324.92" stroke="#5e5e5e" stroke-width="1.1"/>
<line x1="327.4" y1="310.04" x2="330.2" y2="310.04" stroke="#5e5e5e" stroke-width="1.1"/>
<line x1="327.4" y1="295.16" x2="329.2" y2="295.16" stroke="#5e5e5e" stroke-width="1.1"/>
<line x1="327.4" y1="280.28" x2="330.2" y2="280.28" stroke="#5e5e5e" stroke-width="1.1"/>
<line x1="327.4" y1="265.40" x2="329.2" y2="265.40" stroke="#5e5e5e" stroke-width="1.1"/>
<line x1="327.4" y1="250.52" x2="330.2" y2="250.52" stroke="#5e5e5e" stroke-width="1.1"/>
<line x1="327.4" y1="235.64" x2="329.2" y2="235.64" stroke="#5e5e5e" stroke-width="1.1"/>
<line x1="327.4" y1="220.76" x2="330.2" y2="220.76" stroke="#5e5e5e" stroke-width="1.1"/>
<line x1="327.4" y1="205.88" x2="329.2" y2="205.88" stroke="#5e5e5e" stroke-width="1.1"/>
<text transform="translate(327.40,350.50) scale(1.120,1.000)" font-size="8.4" font-weight="bold" text-anchor="middle" fill="#000" stroke="#000" stroke-width="0.1">0</text>
<text transform="translate(324.00,342.70) scale(1.120,1.000)" font-size="8.4" font-weight="bold" text-anchor="end" fill="#000" stroke="#000" stroke-width="0.1">0</text>
<text transform="translate(369.28,350.50) scale(1.120,1.000)" font-size="8.4" font-weight="bold" text-anchor="middle" fill="#000" stroke="#000" stroke-width="0.1">50</text>
<text transform="translate(324.00,312.94) scale(1.120,1.000)" font-size="8.4" font-weight="bold" text-anchor="end" fill="#000" stroke="#000" stroke-width="0.1">50</text>
<text transform="translate(411.16,350.50) scale(1.120,1.000)" font-size="8.4" font-weight="bold" text-anchor="middle" fill="#000" stroke="#000" stroke-width="0.1">100</text>
<text transform="translate(324.00,283.18) scale(1.120,1.000)" font-size="8.4" font-weight="bold" text-anchor="end" fill="#000" stroke="#000" stroke-width="0.1">100</text>
<text transform="translate(453.04,350.50) scale(1.120,1.000)" font-size="8.4" font-weight="bold" text-anchor="middle" fill="#000" stroke="#000" stroke-width="0.1">150</text>
<text transform="translate(324.00,253.42) scale(1.120,1.000)" font-size="8.4" font-weight="bold" text-anchor="end" fill="#000" stroke="#000" stroke-width="0.1">150</text>
<text transform="translate(494.92,350.50) scale(1.120,1.000)" font-size="8.4" font-weight="bold" text-anchor="middle" fill="#000" stroke="#000" stroke-width="0.1">200</text>
<text transform="translate(324.00,223.66) scale(1.120,1.000)" font-size="8.4" font-weight="bold" text-anchor="end" fill="#000" stroke="#000" stroke-width="0.1">200</text>
<text transform="translate(536.80,350.50) scale(1.120,1.000)" font-size="8.4" font-weight="bold" text-anchor="middle" fill="#000" stroke="#000" stroke-width="0.1">250</text>
<text transform="translate(324.00,193.90) scale(1.120,1.000)" font-size="8.4" font-weight="bold" text-anchor="end" fill="#000" stroke="#000" stroke-width="0.1">250</text>
<line x1="344.15" y1="297.90" x2="494.92" y2="233.85" stroke="#ff0000" stroke-width="2"/>
<rect x="342.45" y="294.06" width="3.4" height="3.4" fill="#000"/>
<rect x="392.71" y="277.98" width="3.4" height="3.4" fill="#000"/>
<rect x="442.96" y="256.56" width="3.4" height="3.4" fill="#000"/>
<rect x="493.22" y="229.18" width="3.4" height="3.4" fill="#000"/>
<text transform="translate(431.50,363.60) scale(1.090,1.000)" font-size="14.5" font-weight="bold" text-anchor="middle" fill="#000" stroke="#000" stroke-width="0.3">Scan rate (mV/s)</text>
<text transform="translate(301.70,274.70) rotate(-90)" font-size="15" font-weight="bold" text-anchor="middle" fill="#000" stroke="#000" stroke-width="0.3">I (μA)</text>
<text transform="translate(511.50,216.30) scale(1.060,1.000)" font-size="27.3" font-weight="bold" text-anchor="middle" fill="#0a0a0a" stroke="#0a0a0a" stroke-width="0.5">(d)</text>
</g>
</svg>
</body></html>
